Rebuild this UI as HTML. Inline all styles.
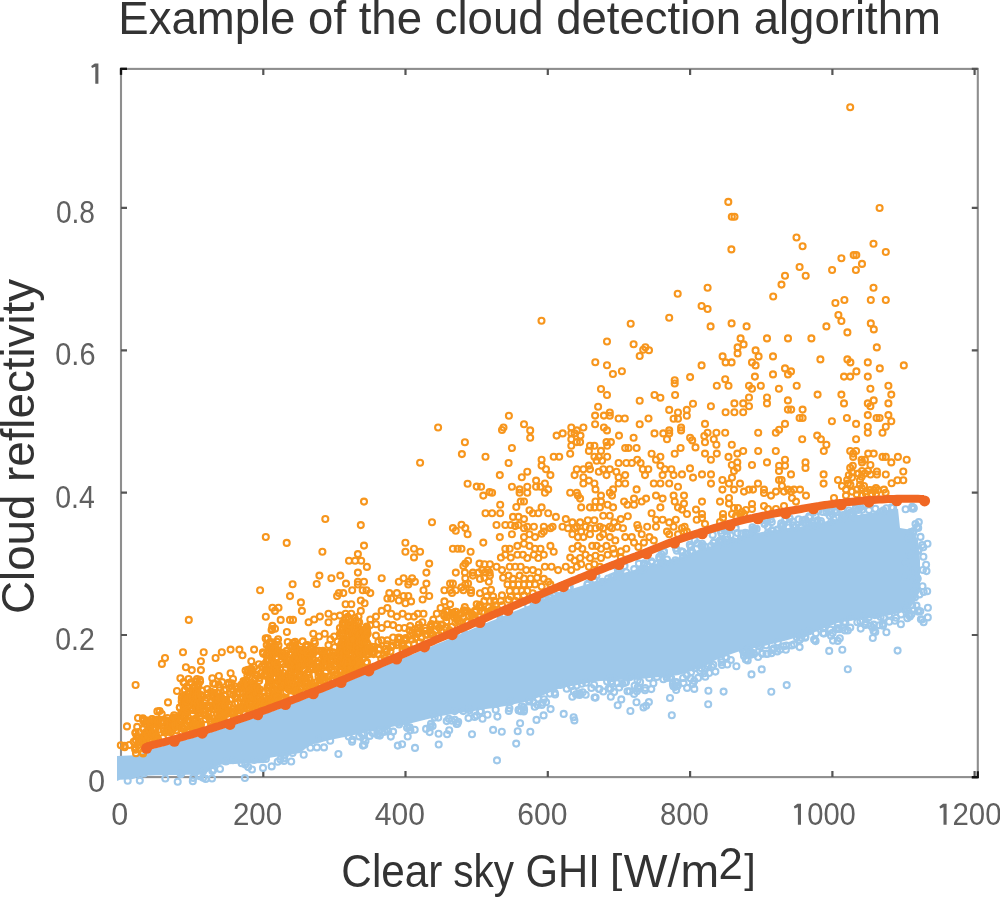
<!DOCTYPE html>
<html><head><meta charset="utf-8"><style>
html,body{margin:0;padding:0;background:#fff;width:1000px;height:897px;overflow:hidden}
svg{display:block;will-change:transform}
</style></head><body>
<svg width="1000" height="897" viewBox="0 0 1000 897"><rect x="121" y="68.9" width="856.8" height="708.2" fill="none" stroke="#8e8e8e" stroke-width="2.1"/><path d="M121 68.9V75M121 777.1V771M263.3 68.9V75M263.3 777.1V771M405.5 68.9V75M405.5 777.1V771M547.8 68.9V75M547.8 777.1V771M690.1 68.9V75M690.1 777.1V771M832.4 68.9V75M832.4 777.1V771M974.6 68.9V75M974.6 777.1V771M121 777.4H127M977.8 777.4H971.8M121 635H127M977.8 635H971.8M121 492.6H127M977.8 492.6H971.8M121 350.3H127M977.8 350.3H971.8M121 207.8H127M977.8 207.8H971.8M121 68.9H127M977.8 68.9H971.8" stroke="#555" stroke-width="2.2" fill="none"/><path d="M121 74.8V68.9H127M971.8 777.1H977.8V771.2" stroke="#111" stroke-width="2.2" fill="none"/><path d="M117 756 L140 755 L147 749.3 L150 749.4 L154 748.4 L158 747.4 L162 746.4 L166 745.3 L170 744.3 L174 743.2 L178 742.1 L182 741 L186 739.8 L190 738.7 L194 737.5 L198 736.3 L202 735.1 L206 733.9 L210 732.6 L214 731.4 L218 730.1 L222 728.8 L226 727.5 L230 726.2 L234 724.8 L238 723.5 L242 722.1 L246 720.7 L250 719.3 L254 717.9 L258 716.5 L262 715.1 L266 713.6 L270 712.1 L274 710.7 L278 709.2 L282 707.7 L286 706.2 L290 704.6 L294 703.1 L298 701.6 L302 700 L306 698.4 L310 696.9 L314 695.3 L318 693.7 L322 692.1 L326 690.5 L330 688.8 L334 687.2 L338 685.6 L342 683.9 L346 682.3 L350 680.6 L354 678.9 L358 677.3 L362 675.6 L366 673.9 L370 672.2 L374 670.5 L378 668.8 L382 667.1 L386 665.5 L390 663.8 L394 662.1 L398 660.5 L402 658.8 L406 657.1 L410 655.4 L414 653.7 L418 652.1 L422 650.4 L426 648.7 L430 647 L434 645.3 L438 643.6 L442 641.9 L446 640.2 L450 638.5 L454 636.8 L458 635.1 L462 633.4 L466 631.7 L470 630 L474 628.3 L478 626.6 L482 624.9 L486 623.3 L490 621.6 L494 619.9 L498 618.3 L502 616.6 L506 614.9 L510 613.3 L514 611.6 L518 610 L522 608.3 L526 606.7 L530 605 L534 603.4 L538 601.8 L542 600.2 L546 598.6 L550 596.9 L554 595.3 L558 593.7 L562 592.3 L566 591 L570 589.7 L574 588.3 L578 587 L582 585.8 L586 584.5 L590 583.2 L594 582 L598 580.7 L602 579.5 L606 578.2 L610 577 L614 575.8 L618 574.6 L622 573.4 L626 572.3 L630 571.2 L634 570.1 L638 569 L642 567.8 L646 566.6 L650 565.4 L654 564.2 L658 563 L662 561.8 L666 560.6 L670 559.5 L674 558.4 L678 557.4 L682 556.2 L686 554.8 L690 553.3 L694 551.9 L698 550.5 L702 549.2 L706 547.8 L710 546.5 L714 545.2 L718 543.9 L722 542.6 L726 541.3 L730 540.1 L734 538.9 L738 537.7 L742 536.6 L746 535.6 L750 534.6 L754 533.6 L758 532.7 L762 531.9 L766 531.2 L770 530.6 L774 530 L778 529.4 L782 528.9 L786 528.3 L790 527.8 L794 527.3 L798 526.9 L802 526.3 L806 525.8 L810 525.1 L814 524.1 L818 523.1 L822 522.2 L826 521.3 L830 520.4 L834 519.6 L838 518.8 L842 518 L846 517.2 L850 516.5 L854 515.7 L858 515 L862 514.3 L866 513.6 L870 512.9 L874 512.2 L878 511.6 L882 511 L886 510.4 L890 509.8 L894 509.3 L898 508.8 L900 528 L912 530 L918 540 L920 560 L920 590 L916 600 L906 613.6 L906 609 L900 613 L894 614.2 L888 615.4 L882 616.6 L876 617.5 L870 618.2 L864 619 L858 619.8 L852 620.5 L846 621.2 L840 622 L834 624.4 L828 626.8 L822 629.2 L816 631.6 L810 634 L804 635.6 L798 637.2 L792 638.8 L786 640.4 L780 642 L774 643.5 L768 645 L762 646.5 L756 647.8 L750 649 L744 650.2 L738 651.7 L732 653.8 L726 655.9 L720 658 L714 661 L708 664 L702 667 L696 669.4 L690 671.5 L684 673.6 L678 675.2 L672 675.8 L666 676.4 L660 677 L654 677.6 L648 678.2 L642 678.8 L636 679.2 L630 679.5 L624 679.8 L618 680.1 L612 680.4 L606 680.7 L600 681 L594 682 L588 683.1 L582 684.1 L576 685.2 L570 686.2 L564 687.3 L558 688.9 L552 691.5 L546 694.1 L540 696.7 L534 699.3 L528 701.4 L522 702.6 L516 703.8 L510 705 L504 706.2 L498 707.3 L492 708.2 L486 709.1 L480 710 L474 710.9 L468 711.8 L462 712.7 L456 713.6 L450 714.5 L444 715.4 L438 716.5 L432 718 L426 719.5 L420 721 L414 722.5 L408 723.9 L402 725 L396 726.1 L390 727.2 L384 728.3 L378 729.5 L372 730.9 L366 732.3 L360 733.7 L354 735.1 L348 736.4 L342 737.6 L336 738.8 L330 740 L324 741.5 L318 743 L312 744.5 L306 748.2 L300 753 L294 753.9 L288 754.9 L282 755.8 L276 756.8 L270 757.7 L264 763 L258 763.2 L252 763.4 L246 763.6 L240 763.8 L234 764 L228 764.2 L222 764.4 L216 766 L210 770.3 L204 774.5 L198 774.6 L192 774.7 L186 774.8 L180 774.9 L174 775 L168 775.1 L162 775.2 L156 775.3 L150 775.4 L144 775.4 L138 777.2 L132 779.2 L126 779.5 L120 779.8 L117 781Z" fill="#9EC8EA"/><g fill="none" stroke="#9EC8EA" stroke-width="2.1"><circle cx="127.7" cy="780.8" r="3.0"/><circle cx="139.8" cy="780.6" r="3.0"/><circle cx="143.9" cy="773.4" r="3.0"/><circle cx="165.3" cy="778.5" r="3.0"/><circle cx="177.7" cy="781.7" r="3.0"/><circle cx="181.5" cy="773.1" r="3.0"/><circle cx="180.7" cy="774.2" r="3.0"/><circle cx="193.2" cy="777.9" r="3.0"/><circle cx="192.8" cy="781.2" r="3.0"/><circle cx="199.3" cy="774.6" r="3.0"/><circle cx="199.8" cy="776.2" r="3.0"/><circle cx="203.1" cy="777.7" r="3.0"/><circle cx="203.3" cy="771" r="3.0"/><circle cx="205.7" cy="778.9" r="3.0"/><circle cx="212" cy="778.5" r="3.0"/><circle cx="212.4" cy="770.9" r="3.0"/><circle cx="213.6" cy="769.5" r="3.0"/><circle cx="214.4" cy="763.3" r="3.0"/><circle cx="220" cy="769" r="3.0"/><circle cx="225.9" cy="761.5" r="3.0"/><circle cx="233.1" cy="760.3" r="3.0"/><circle cx="241.6" cy="763.3" r="3.0"/><circle cx="244.9" cy="778" r="3.0"/><circle cx="245.3" cy="764.4" r="3.0"/><circle cx="248.2" cy="767.1" r="3.0"/><circle cx="252" cy="769.5" r="3.0"/><circle cx="254.1" cy="760" r="3.0"/><circle cx="263" cy="767.9" r="3.0"/><circle cx="265.9" cy="759" r="3.0"/><circle cx="271.7" cy="766.4" r="3.0"/><circle cx="277.7" cy="761.7" r="3.0"/><circle cx="280.4" cy="759.4" r="3.0"/><circle cx="284.1" cy="758.2" r="3.0"/><circle cx="284" cy="760.9" r="3.0"/><circle cx="285" cy="754.6" r="3.0"/><circle cx="291.2" cy="761.5" r="3.0"/><circle cx="292.6" cy="752.9" r="3.0"/><circle cx="303.7" cy="754.7" r="3.0"/><circle cx="310.4" cy="747.7" r="3.0"/><circle cx="316.9" cy="747.4" r="3.0"/><circle cx="319.6" cy="738.5" r="3.0"/><circle cx="324" cy="747.4" r="3.0"/><circle cx="330.2" cy="740.8" r="3.0"/><circle cx="338.4" cy="754" r="3.0"/><circle cx="348.7" cy="736.5" r="3.0"/><circle cx="352.4" cy="739.7" r="3.0"/><circle cx="352.1" cy="741.7" r="3.0"/><circle cx="359.2" cy="736.4" r="3.0"/><circle cx="361.9" cy="734" r="3.0"/><circle cx="362.9" cy="745.6" r="3.0"/><circle cx="363.5" cy="739.1" r="3.0"/><circle cx="363.8" cy="733.9" r="3.0"/><circle cx="364.3" cy="745.1" r="3.0"/><circle cx="365.5" cy="740.9" r="3.0"/><circle cx="369.7" cy="735.9" r="3.0"/><circle cx="372.6" cy="733.1" r="3.0"/><circle cx="377.2" cy="733.8" r="3.0"/><circle cx="377.8" cy="735.2" r="3.0"/><circle cx="379.1" cy="731.4" r="3.0"/><circle cx="379.9" cy="735.6" r="3.0"/><circle cx="380" cy="730.5" r="3.0"/><circle cx="382.2" cy="732.3" r="3.0"/><circle cx="384.9" cy="731.7" r="3.0"/><circle cx="386.9" cy="729.6" r="3.0"/><circle cx="388.2" cy="731.1" r="3.0"/><circle cx="390.8" cy="736.6" r="3.0"/><circle cx="393.1" cy="731.6" r="3.0"/><circle cx="398.2" cy="722.5" r="3.0"/><circle cx="397.8" cy="745.6" r="3.0"/><circle cx="399.1" cy="724.4" r="3.0"/><circle cx="402.1" cy="744.2" r="3.0"/><circle cx="406.1" cy="721.7" r="3.0"/><circle cx="407.1" cy="727.7" r="3.0"/><circle cx="407.7" cy="736.5" r="3.0"/><circle cx="407.6" cy="727.7" r="3.0"/><circle cx="409.7" cy="727.4" r="3.0"/><circle cx="410.4" cy="730.2" r="3.0"/><circle cx="414.7" cy="729.8" r="3.0"/><circle cx="415" cy="747.9" r="3.0"/><circle cx="426.1" cy="728.9" r="3.0"/><circle cx="429.6" cy="732.1" r="3.0"/><circle cx="430.1" cy="727.2" r="3.0"/><circle cx="431" cy="723.9" r="3.0"/><circle cx="432.6" cy="726" r="3.0"/><circle cx="433" cy="714.5" r="3.0"/><circle cx="434.7" cy="717.6" r="3.0"/><circle cx="438.3" cy="717.6" r="3.0"/><circle cx="438.6" cy="733.7" r="3.0"/><circle cx="438.7" cy="744.5" r="3.0"/><circle cx="446.7" cy="721.1" r="3.0"/><circle cx="447.1" cy="734.2" r="3.0"/><circle cx="448.8" cy="718.7" r="3.0"/><circle cx="449.2" cy="730.3" r="3.0"/><circle cx="451.5" cy="720.6" r="3.0"/><circle cx="454.6" cy="711.1" r="3.0"/><circle cx="454.8" cy="719.8" r="3.0"/><circle cx="456.6" cy="723.9" r="3.0"/><circle cx="457.4" cy="723.7" r="3.0"/><circle cx="458.2" cy="721.8" r="3.0"/><circle cx="461.2" cy="634.2" r="3.0"/><circle cx="463.3" cy="711.1" r="3.0"/><circle cx="465.3" cy="634" r="3.0"/><circle cx="468.5" cy="718.1" r="3.0"/><circle cx="468.9" cy="708.3" r="3.0"/><circle cx="469.6" cy="710.2" r="3.0"/><circle cx="472" cy="734.3" r="3.0"/><circle cx="474.6" cy="716.9" r="3.0"/><circle cx="476.6" cy="715.5" r="3.0"/><circle cx="480.1" cy="711.4" r="3.0"/><circle cx="480.9" cy="711.2" r="3.0"/><circle cx="482.5" cy="718.7" r="3.0"/><circle cx="483.7" cy="626.3" r="3.0"/><circle cx="487.5" cy="714.8" r="3.0"/><circle cx="493.1" cy="729.9" r="3.0"/><circle cx="495.7" cy="709.7" r="3.0"/><circle cx="497.4" cy="716.6" r="3.0"/><circle cx="497" cy="760.4" r="3.0"/><circle cx="500.6" cy="619.4" r="3.0"/><circle cx="501.8" cy="731.8" r="3.0"/><circle cx="504.7" cy="615.3" r="3.0"/><circle cx="508.8" cy="710.9" r="3.0"/><circle cx="509.4" cy="708.3" r="3.0"/><circle cx="510.8" cy="701.3" r="3.0"/><circle cx="516.2" cy="743.6" r="3.0"/><circle cx="517.7" cy="731.2" r="3.0"/><circle cx="518.8" cy="710.5" r="3.0"/><circle cx="518.6" cy="709.9" r="3.0"/><circle cx="520.1" cy="723.3" r="3.0"/><circle cx="520.9" cy="711.2" r="3.0"/><circle cx="521.7" cy="706.3" r="3.0"/><circle cx="523.8" cy="711.5" r="3.0"/><circle cx="523.7" cy="707.4" r="3.0"/><circle cx="524.1" cy="709.9" r="3.0"/><circle cx="528.1" cy="605.3" r="3.0"/><circle cx="529.1" cy="701.4" r="3.0"/><circle cx="530.3" cy="731.7" r="3.0"/><circle cx="529.6" cy="700.2" r="3.0"/><circle cx="533.3" cy="702.4" r="3.0"/><circle cx="534.7" cy="706.8" r="3.0"/><circle cx="534.5" cy="605.5" r="3.0"/><circle cx="536.5" cy="719.9" r="3.0"/><circle cx="537.6" cy="705.1" r="3.0"/><circle cx="537.9" cy="698.5" r="3.0"/><circle cx="538.7" cy="601.3" r="3.0"/><circle cx="541.8" cy="704.9" r="3.0"/><circle cx="542.4" cy="598.3" r="3.0"/><circle cx="542.6" cy="702.8" r="3.0"/><circle cx="544" cy="699.3" r="3.0"/><circle cx="543.6" cy="715.4" r="3.0"/><circle cx="543.6" cy="599.3" r="3.0"/><circle cx="545.4" cy="599.2" r="3.0"/><circle cx="546.1" cy="702.3" r="3.0"/><circle cx="545.5" cy="598.7" r="3.0"/><circle cx="549.9" cy="693.6" r="3.0"/><circle cx="550.6" cy="709.1" r="3.0"/><circle cx="551.3" cy="597.9" r="3.0"/><circle cx="554.3" cy="595.2" r="3.0"/><circle cx="554.7" cy="692.7" r="3.0"/><circle cx="555.1" cy="694.5" r="3.0"/><circle cx="558" cy="592.1" r="3.0"/><circle cx="558.5" cy="596" r="3.0"/><circle cx="560.4" cy="685" r="3.0"/><circle cx="564.4" cy="683.4" r="3.0"/><circle cx="563.7" cy="713.9" r="3.0"/><circle cx="566.7" cy="688.8" r="3.0"/><circle cx="568.3" cy="588.2" r="3.0"/><circle cx="569.8" cy="587.4" r="3.0"/><circle cx="570.8" cy="685.6" r="3.0"/><circle cx="571.5" cy="686.3" r="3.0"/><circle cx="572.3" cy="696.8" r="3.0"/><circle cx="573.8" cy="691.1" r="3.0"/><circle cx="574.4" cy="720.4" r="3.0"/><circle cx="573.6" cy="717.2" r="3.0"/><circle cx="576" cy="694.4" r="3.0"/><circle cx="576.7" cy="685.5" r="3.0"/><circle cx="579.7" cy="693.4" r="3.0"/><circle cx="579.6" cy="695" r="3.0"/><circle cx="581.8" cy="683.7" r="3.0"/><circle cx="582.7" cy="692.2" r="3.0"/><circle cx="585.7" cy="694.8" r="3.0"/><circle cx="586" cy="682.8" r="3.0"/><circle cx="587.3" cy="584.7" r="3.0"/><circle cx="588" cy="583.8" r="3.0"/><circle cx="591.4" cy="688" r="3.0"/><circle cx="594.1" cy="684.8" r="3.0"/><circle cx="594.4" cy="579.5" r="3.0"/><circle cx="594.6" cy="697.5" r="3.0"/><circle cx="595.6" cy="697.6" r="3.0"/><circle cx="596.4" cy="576.1" r="3.0"/><circle cx="599" cy="689" r="3.0"/><circle cx="599.4" cy="689.1" r="3.0"/><circle cx="602.3" cy="581.8" r="3.0"/><circle cx="603.3" cy="691.5" r="3.0"/><circle cx="607.1" cy="681.5" r="3.0"/><circle cx="608.1" cy="578.5" r="3.0"/><circle cx="608.7" cy="688.6" r="3.0"/><circle cx="609.9" cy="678.3" r="3.0"/><circle cx="610.5" cy="688.8" r="3.0"/><circle cx="610.8" cy="696.8" r="3.0"/><circle cx="611" cy="681.4" r="3.0"/><circle cx="611.5" cy="577.3" r="3.0"/><circle cx="612" cy="683.7" r="3.0"/><circle cx="613.4" cy="678" r="3.0"/><circle cx="614.1" cy="692.1" r="3.0"/><circle cx="614" cy="576.4" r="3.0"/><circle cx="617" cy="683.2" r="3.0"/><circle cx="616.5" cy="575.2" r="3.0"/><circle cx="617.7" cy="705.3" r="3.0"/><circle cx="618.2" cy="571.8" r="3.0"/><circle cx="617.8" cy="575.8" r="3.0"/><circle cx="617.7" cy="568.7" r="3.0"/><circle cx="619.2" cy="687.5" r="3.0"/><circle cx="618.8" cy="571.4" r="3.0"/><circle cx="618.8" cy="570.8" r="3.0"/><circle cx="618.7" cy="574" r="3.0"/><circle cx="619.9" cy="576.3" r="3.0"/><circle cx="621.3" cy="699.4" r="3.0"/><circle cx="622.3" cy="683.8" r="3.0"/><circle cx="624.5" cy="566.1" r="3.0"/><circle cx="624.9" cy="682.7" r="3.0"/><circle cx="626" cy="682.3" r="3.0"/><circle cx="626.2" cy="572.2" r="3.0"/><circle cx="627.5" cy="691.2" r="3.0"/><circle cx="630.4" cy="711" r="3.0"/><circle cx="630.2" cy="677.1" r="3.0"/><circle cx="629.6" cy="691.2" r="3.0"/><circle cx="634.1" cy="693.9" r="3.0"/><circle cx="634.2" cy="569.1" r="3.0"/><circle cx="634.6" cy="685.8" r="3.0"/><circle cx="637.5" cy="680.5" r="3.0"/><circle cx="636.5" cy="702.2" r="3.0"/><circle cx="636.9" cy="691.2" r="3.0"/><circle cx="637.7" cy="687.2" r="3.0"/><circle cx="638.6" cy="676.2" r="3.0"/><circle cx="639.3" cy="688.8" r="3.0"/><circle cx="638.9" cy="563.6" r="3.0"/><circle cx="640.1" cy="682" r="3.0"/><circle cx="639.6" cy="570.8" r="3.0"/><circle cx="639.7" cy="570" r="3.0"/><circle cx="643.5" cy="707.4" r="3.0"/><circle cx="643.3" cy="569.6" r="3.0"/><circle cx="644" cy="563.3" r="3.0"/><circle cx="644.2" cy="564.9" r="3.0"/><circle cx="645.2" cy="688" r="3.0"/><circle cx="645" cy="690.2" r="3.0"/><circle cx="646.2" cy="705.7" r="3.0"/><circle cx="647.2" cy="564.9" r="3.0"/><circle cx="647.2" cy="565.7" r="3.0"/><circle cx="649.2" cy="677.9" r="3.0"/><circle cx="648.9" cy="702.1" r="3.0"/><circle cx="651.3" cy="689.1" r="3.0"/><circle cx="651.3" cy="561.3" r="3.0"/><circle cx="651.8" cy="562.6" r="3.0"/><circle cx="653.4" cy="683.2" r="3.0"/><circle cx="656.9" cy="676.9" r="3.0"/><circle cx="657.1" cy="563.8" r="3.0"/><circle cx="659.4" cy="559.2" r="3.0"/><circle cx="659.2" cy="557.1" r="3.0"/><circle cx="661.4" cy="554.3" r="3.0"/><circle cx="660.8" cy="564.3" r="3.0"/><circle cx="662.4" cy="561.4" r="3.0"/><circle cx="663.4" cy="679.2" r="3.0"/><circle cx="664" cy="551.9" r="3.0"/><circle cx="663.7" cy="551.6" r="3.0"/><circle cx="665.1" cy="563.4" r="3.0"/><circle cx="666.8" cy="678" r="3.0"/><circle cx="666.7" cy="677.3" r="3.0"/><circle cx="667" cy="559.5" r="3.0"/><circle cx="669.5" cy="673.5" r="3.0"/><circle cx="670" cy="698" r="3.0"/><circle cx="669.8" cy="677.4" r="3.0"/><circle cx="671.2" cy="678" r="3.0"/><circle cx="671.8" cy="715.2" r="3.0"/><circle cx="673.4" cy="686.3" r="3.0"/><circle cx="672.9" cy="684.1" r="3.0"/><circle cx="674.8" cy="686.9" r="3.0"/><circle cx="675.4" cy="560.3" r="3.0"/><circle cx="676.1" cy="682.8" r="3.0"/><circle cx="676.3" cy="682" r="3.0"/><circle cx="676.2" cy="690" r="3.0"/><circle cx="676" cy="548.4" r="3.0"/><circle cx="677.1" cy="685.9" r="3.0"/><circle cx="676.8" cy="550.7" r="3.0"/><circle cx="677.8" cy="685.5" r="3.0"/><circle cx="681.2" cy="551.3" r="3.0"/><circle cx="682.4" cy="552" r="3.0"/><circle cx="682.5" cy="551.9" r="3.0"/><circle cx="683.1" cy="678" r="3.0"/><circle cx="683.5" cy="683.1" r="3.0"/><circle cx="682.9" cy="556.4" r="3.0"/><circle cx="683.6" cy="556.4" r="3.0"/><circle cx="687.1" cy="687.9" r="3.0"/><circle cx="686.9" cy="675.3" r="3.0"/><circle cx="687.5" cy="554" r="3.0"/><circle cx="689.8" cy="544.8" r="3.0"/><circle cx="691" cy="672.2" r="3.0"/><circle cx="690.5" cy="678.3" r="3.0"/><circle cx="690.5" cy="551.5" r="3.0"/><circle cx="690.7" cy="546.9" r="3.0"/><circle cx="691.9" cy="551.4" r="3.0"/><circle cx="693" cy="683.9" r="3.0"/><circle cx="694.3" cy="688.9" r="3.0"/><circle cx="694.2" cy="680.9" r="3.0"/><circle cx="694.7" cy="668.3" r="3.0"/><circle cx="694.7" cy="540.2" r="3.0"/><circle cx="697.4" cy="543.4" r="3.0"/><circle cx="696.7" cy="548.5" r="3.0"/><circle cx="698.1" cy="677.9" r="3.0"/><circle cx="698.8" cy="664.4" r="3.0"/><circle cx="700.1" cy="670.8" r="3.0"/><circle cx="701.5" cy="668.2" r="3.0"/><circle cx="701.4" cy="545.9" r="3.0"/><circle cx="702.5" cy="546.4" r="3.0"/><circle cx="702.2" cy="543.7" r="3.0"/><circle cx="704.3" cy="673.3" r="3.0"/><circle cx="705.1" cy="669" r="3.0"/><circle cx="705.3" cy="676.7" r="3.0"/><circle cx="704.8" cy="546.5" r="3.0"/><circle cx="708.4" cy="690.7" r="3.0"/><circle cx="708.2" cy="704.2" r="3.0"/><circle cx="708.3" cy="666.5" r="3.0"/><circle cx="709.1" cy="673" r="3.0"/><circle cx="711.3" cy="545.7" r="3.0"/><circle cx="711.8" cy="666.8" r="3.0"/><circle cx="713.4" cy="664.8" r="3.0"/><circle cx="712.7" cy="534.9" r="3.0"/><circle cx="713.5" cy="542.8" r="3.0"/><circle cx="714.3" cy="542.4" r="3.0"/><circle cx="715.4" cy="671.6" r="3.0"/><circle cx="717.9" cy="544.8" r="3.0"/><circle cx="719.6" cy="540.7" r="3.0"/><circle cx="721.3" cy="660.1" r="3.0"/><circle cx="720.9" cy="539.8" r="3.0"/><circle cx="721.4" cy="533.3" r="3.0"/><circle cx="720.7" cy="530.7" r="3.0"/><circle cx="722" cy="664.9" r="3.0"/><circle cx="721.8" cy="662.2" r="3.0"/><circle cx="722.2" cy="541.8" r="3.0"/><circle cx="721.8" cy="540.8" r="3.0"/><circle cx="723.6" cy="691.6" r="3.0"/><circle cx="724.3" cy="542.1" r="3.0"/><circle cx="724.9" cy="530.5" r="3.0"/><circle cx="725.7" cy="657.1" r="3.0"/><circle cx="726.3" cy="658.1" r="3.0"/><circle cx="727.3" cy="664.5" r="3.0"/><circle cx="727.2" cy="529.7" r="3.0"/><circle cx="726.9" cy="539.7" r="3.0"/><circle cx="727.1" cy="536.4" r="3.0"/><circle cx="728" cy="543.1" r="3.0"/><circle cx="729.1" cy="530" r="3.0"/><circle cx="730.8" cy="660" r="3.0"/><circle cx="730.6" cy="535.3" r="3.0"/><circle cx="733.4" cy="541.3" r="3.0"/><circle cx="733.2" cy="541.7" r="3.0"/><circle cx="736.4" cy="666.3" r="3.0"/><circle cx="735.7" cy="528.1" r="3.0"/><circle cx="737.5" cy="533.1" r="3.0"/><circle cx="741.4" cy="533.6" r="3.0"/><circle cx="740.7" cy="539.2" r="3.0"/><circle cx="742.7" cy="650.1" r="3.0"/><circle cx="743.6" cy="652.6" r="3.0"/><circle cx="744" cy="656" r="3.0"/><circle cx="744.8" cy="652.9" r="3.0"/><circle cx="745.3" cy="532.7" r="3.0"/><circle cx="745.8" cy="652.1" r="3.0"/><circle cx="745.8" cy="659.4" r="3.0"/><circle cx="747.2" cy="533.5" r="3.0"/><circle cx="747.7" cy="660.4" r="3.0"/><circle cx="748.5" cy="648.6" r="3.0"/><circle cx="749.4" cy="650.1" r="3.0"/><circle cx="748.9" cy="654.8" r="3.0"/><circle cx="749" cy="533.6" r="3.0"/><circle cx="750.7" cy="652.2" r="3.0"/><circle cx="750.6" cy="654.8" r="3.0"/><circle cx="751.6" cy="653.8" r="3.0"/><circle cx="751.5" cy="674.4" r="3.0"/><circle cx="752.5" cy="527.3" r="3.0"/><circle cx="753.5" cy="649" r="3.0"/><circle cx="753.1" cy="529.4" r="3.0"/><circle cx="752.8" cy="531.1" r="3.0"/><circle cx="753.5" cy="653.1" r="3.0"/><circle cx="754.1" cy="654.1" r="3.0"/><circle cx="754.7" cy="529.1" r="3.0"/><circle cx="756.6" cy="528.9" r="3.0"/><circle cx="758.1" cy="657" r="3.0"/><circle cx="758.8" cy="645.4" r="3.0"/><circle cx="760.2" cy="646.8" r="3.0"/><circle cx="762.2" cy="653.8" r="3.0"/><circle cx="761.7" cy="669.4" r="3.0"/><circle cx="762.3" cy="653.4" r="3.0"/><circle cx="764.7" cy="520.5" r="3.0"/><circle cx="764.6" cy="523.7" r="3.0"/><circle cx="764.8" cy="524" r="3.0"/><circle cx="766.1" cy="645.2" r="3.0"/><circle cx="766.4" cy="653.9" r="3.0"/><circle cx="767.4" cy="520.6" r="3.0"/><circle cx="767.7" cy="653.8" r="3.0"/><circle cx="768.1" cy="532.6" r="3.0"/><circle cx="767.7" cy="526.7" r="3.0"/><circle cx="771.3" cy="691.7" r="3.0"/><circle cx="771.4" cy="653.2" r="3.0"/><circle cx="770.6" cy="519.6" r="3.0"/><circle cx="772.2" cy="649.9" r="3.0"/><circle cx="772" cy="530.3" r="3.0"/><circle cx="771.8" cy="522.1" r="3.0"/><circle cx="772.2" cy="530.7" r="3.0"/><circle cx="773.4" cy="649.7" r="3.0"/><circle cx="772.9" cy="530.9" r="3.0"/><circle cx="773.9" cy="648.3" r="3.0"/><circle cx="777.3" cy="651.4" r="3.0"/><circle cx="777.4" cy="529.5" r="3.0"/><circle cx="777.8" cy="642.3" r="3.0"/><circle cx="778" cy="529.8" r="3.0"/><circle cx="780.2" cy="649.6" r="3.0"/><circle cx="781.1" cy="526.5" r="3.0"/><circle cx="781.2" cy="523.4" r="3.0"/><circle cx="783" cy="524.9" r="3.0"/><circle cx="783.6" cy="646.2" r="3.0"/><circle cx="785.3" cy="520.6" r="3.0"/><circle cx="786.4" cy="645.6" r="3.0"/><circle cx="785.9" cy="649.8" r="3.0"/><circle cx="785.6" cy="519.1" r="3.0"/><circle cx="786.7" cy="685.1" r="3.0"/><circle cx="788.7" cy="527.5" r="3.0"/><circle cx="789.7" cy="518.4" r="3.0"/><circle cx="791.6" cy="645.4" r="3.0"/><circle cx="793.1" cy="525.4" r="3.0"/><circle cx="792.7" cy="521.5" r="3.0"/><circle cx="794.1" cy="644.4" r="3.0"/><circle cx="795.8" cy="527.3" r="3.0"/><circle cx="796.9" cy="637.6" r="3.0"/><circle cx="798.6" cy="634.5" r="3.0"/><circle cx="798.6" cy="519.3" r="3.0"/><circle cx="799.6" cy="647.1" r="3.0"/><circle cx="799.6" cy="640" r="3.0"/><circle cx="801.4" cy="638" r="3.0"/><circle cx="801.2" cy="527.7" r="3.0"/><circle cx="801.2" cy="526.2" r="3.0"/><circle cx="802.6" cy="520.2" r="3.0"/><circle cx="805.2" cy="637.8" r="3.0"/><circle cx="804.6" cy="633.1" r="3.0"/><circle cx="805.4" cy="636.7" r="3.0"/><circle cx="805.5" cy="519.5" r="3.0"/><circle cx="805.7" cy="522.9" r="3.0"/><circle cx="809.1" cy="631.3" r="3.0"/><circle cx="809.2" cy="516.4" r="3.0"/><circle cx="809.4" cy="517.4" r="3.0"/><circle cx="808.9" cy="523.2" r="3.0"/><circle cx="810.9" cy="525.3" r="3.0"/><circle cx="812.2" cy="526.2" r="3.0"/><circle cx="812.3" cy="523" r="3.0"/><circle cx="813" cy="512.8" r="3.0"/><circle cx="814.1" cy="639.6" r="3.0"/><circle cx="815.1" cy="640.3" r="3.0"/><circle cx="815.9" cy="633.3" r="3.0"/><circle cx="815.6" cy="641.1" r="3.0"/><circle cx="815.6" cy="515.9" r="3.0"/><circle cx="815.9" cy="525.4" r="3.0"/><circle cx="817.2" cy="522.5" r="3.0"/><circle cx="817.7" cy="520.3" r="3.0"/><circle cx="818.7" cy="510.6" r="3.0"/><circle cx="820.9" cy="521" r="3.0"/><circle cx="820.7" cy="523.3" r="3.0"/><circle cx="823.3" cy="633.1" r="3.0"/><circle cx="823.1" cy="628.3" r="3.0"/><circle cx="822.7" cy="511.9" r="3.0"/><circle cx="823.6" cy="633.3" r="3.0"/><circle cx="823.9" cy="633.5" r="3.0"/><circle cx="826.5" cy="512.6" r="3.0"/><circle cx="829.2" cy="650.9" r="3.0"/><circle cx="830.4" cy="629.6" r="3.0"/><circle cx="829.9" cy="512.1" r="3.0"/><circle cx="829.8" cy="515.7" r="3.0"/><circle cx="831" cy="635.7" r="3.0"/><circle cx="830.6" cy="509.7" r="3.0"/><circle cx="831.3" cy="521.8" r="3.0"/><circle cx="832.2" cy="514.3" r="3.0"/><circle cx="833" cy="640.6" r="3.0"/><circle cx="832.6" cy="632.9" r="3.0"/><circle cx="833.8" cy="519.3" r="3.0"/><circle cx="834.6" cy="511.1" r="3.0"/><circle cx="836.3" cy="629.2" r="3.0"/><circle cx="836.6" cy="512.3" r="3.0"/><circle cx="837.7" cy="640.9" r="3.0"/><circle cx="838" cy="628.4" r="3.0"/><circle cx="837.7" cy="624.1" r="3.0"/><circle cx="837.6" cy="628.3" r="3.0"/><circle cx="839.5" cy="629.3" r="3.0"/><circle cx="839.8" cy="638.3" r="3.0"/><circle cx="842.3" cy="649.8" r="3.0"/><circle cx="842" cy="515.4" r="3.0"/><circle cx="842" cy="510.7" r="3.0"/><circle cx="841.9" cy="518.8" r="3.0"/><circle cx="843.9" cy="622.6" r="3.0"/><circle cx="843.7" cy="627.6" r="3.0"/><circle cx="843.8" cy="516.1" r="3.0"/><circle cx="843.7" cy="517.3" r="3.0"/><circle cx="845" cy="630.5" r="3.0"/><circle cx="845.4" cy="622.9" r="3.0"/><circle cx="844.7" cy="514.8" r="3.0"/><circle cx="847" cy="518" r="3.0"/><circle cx="847.8" cy="669.2" r="3.0"/><circle cx="847.8" cy="630.5" r="3.0"/><circle cx="848.9" cy="510.5" r="3.0"/><circle cx="850.3" cy="627.6" r="3.0"/><circle cx="850.1" cy="616.8" r="3.0"/><circle cx="849.9" cy="512.9" r="3.0"/><circle cx="850.4" cy="513.8" r="3.0"/><circle cx="852.2" cy="513.3" r="3.0"/><circle cx="852.8" cy="515.7" r="3.0"/><circle cx="855.1" cy="518" r="3.0"/><circle cx="855.7" cy="508.8" r="3.0"/><circle cx="856.1" cy="506" r="3.0"/><circle cx="857.3" cy="622.3" r="3.0"/><circle cx="858.2" cy="509.9" r="3.0"/><circle cx="858.8" cy="513.5" r="3.0"/><circle cx="860.4" cy="621.5" r="3.0"/><circle cx="860.4" cy="507.4" r="3.0"/><circle cx="860.7" cy="628.6" r="3.0"/><circle cx="862.2" cy="509.8" r="3.0"/><circle cx="863" cy="616.1" r="3.0"/><circle cx="862.8" cy="506" r="3.0"/><circle cx="864.4" cy="616.2" r="3.0"/><circle cx="865.3" cy="625" r="3.0"/><circle cx="865.1" cy="624.1" r="3.0"/><circle cx="865.9" cy="622" r="3.0"/><circle cx="868.7" cy="617.4" r="3.0"/><circle cx="869" cy="510.1" r="3.0"/><circle cx="870.8" cy="625.7" r="3.0"/><circle cx="872.6" cy="627.8" r="3.0"/><circle cx="872.8" cy="638" r="3.0"/><circle cx="873.6" cy="631.1" r="3.0"/><circle cx="873.7" cy="624.6" r="3.0"/><circle cx="875.3" cy="632" r="3.0"/><circle cx="874.7" cy="615.1" r="3.0"/><circle cx="875.4" cy="508.8" r="3.0"/><circle cx="877.5" cy="614.7" r="3.0"/><circle cx="879.4" cy="625.3" r="3.0"/><circle cx="880.4" cy="512" r="3.0"/><circle cx="880.6" cy="617" r="3.0"/><circle cx="882.4" cy="512.5" r="3.0"/><circle cx="882.6" cy="624.1" r="3.0"/><circle cx="883" cy="625.8" r="3.0"/><circle cx="883.8" cy="617.5" r="3.0"/><circle cx="883.5" cy="510.4" r="3.0"/><circle cx="886.4" cy="632.2" r="3.0"/><circle cx="886.5" cy="508.2" r="3.0"/><circle cx="889.2" cy="614.7" r="3.0"/><circle cx="889.2" cy="621.8" r="3.0"/><circle cx="891.6" cy="507.2" r="3.0"/><circle cx="893" cy="507.7" r="3.0"/><circle cx="894.9" cy="620.8" r="3.0"/><circle cx="896.1" cy="617.8" r="3.0"/><circle cx="897.6" cy="650.6" r="3.0"/><circle cx="900.9" cy="624.3" r="3.0"/><circle cx="901" cy="614.4" r="3.0"/><circle cx="905.3" cy="605.9" r="3.0"/><circle cx="907.1" cy="609.7" r="3.0"/><circle cx="907.3" cy="618.2" r="3.0"/><circle cx="908.8" cy="614.7" r="3.0"/><circle cx="911.5" cy="614.3" r="3.0"/><circle cx="912.2" cy="508.4" r="3.0"/><circle cx="912.2" cy="506.9" r="3.0"/><circle cx="913.9" cy="610.2" r="3.0"/><circle cx="918.2" cy="610.6" r="3.0"/><circle cx="920.9" cy="619.3" r="3.0"/><circle cx="923.6" cy="622.3" r="3.0"/><circle cx="923.3" cy="547.2" r="3.0"/><circle cx="917.5" cy="578.4" r="3.0"/><circle cx="926.5" cy="571.1" r="3.0"/><circle cx="917.5" cy="578.8" r="3.0"/><circle cx="927.8" cy="617.4" r="3.0"/><circle cx="918.2" cy="527.9" r="3.0"/><circle cx="922" cy="619.6" r="3.0"/><circle cx="918.8" cy="522.1" r="3.0"/><circle cx="923.7" cy="592" r="3.0"/><circle cx="905.6" cy="509.2" r="3.0"/><circle cx="913.6" cy="531" r="3.0"/><circle cx="922.2" cy="545.1" r="3.0"/><circle cx="918.1" cy="550.9" r="3.0"/><circle cx="919.5" cy="594.4" r="3.0"/><circle cx="916.5" cy="605.6" r="3.0"/><circle cx="926.1" cy="564.7" r="3.0"/><circle cx="910.7" cy="532" r="3.0"/><circle cx="913.1" cy="533.2" r="3.0"/><circle cx="927.5" cy="543.7" r="3.0"/><circle cx="913.6" cy="507.9" r="3.0"/><circle cx="920.5" cy="536.9" r="3.0"/><circle cx="905.9" cy="576.9" r="3.0"/><circle cx="909.9" cy="616.5" r="3.0"/><circle cx="918.8" cy="549.5" r="3.0"/><circle cx="914.1" cy="546.4" r="3.0"/><circle cx="918" cy="611.6" r="3.0"/><circle cx="915" cy="597.2" r="3.0"/><circle cx="915.1" cy="591.2" r="3.0"/><circle cx="922.5" cy="586.2" r="3.0"/><circle cx="913.9" cy="592.4" r="3.0"/><circle cx="913.2" cy="570.9" r="3.0"/><circle cx="927.9" cy="607.7" r="3.0"/><circle cx="908.6" cy="538.1" r="3.0"/><circle cx="917.2" cy="526.8" r="3.0"/><circle cx="909.2" cy="554.6" r="3.0"/><circle cx="905.8" cy="562.5" r="3.0"/><circle cx="923.4" cy="556.8" r="3.0"/><circle cx="920.3" cy="611.2" r="3.0"/><circle cx="906.8" cy="608.5" r="3.0"/><circle cx="913.6" cy="508.6" r="3.0"/><circle cx="913.7" cy="579.9" r="3.0"/><circle cx="912.2" cy="604.9" r="3.0"/><circle cx="922.9" cy="570" r="3.0"/><circle cx="915.5" cy="524.1" r="3.0"/><circle cx="927.2" cy="591.2" r="3.0"/></g><g fill="none" stroke="#F7961D" stroke-width="2.1"><circle cx="120.8" cy="745.2" r="3.0"/><circle cx="124.6" cy="747.3" r="3.0"/><circle cx="124.5" cy="745.7" r="3.0"/><circle cx="129.3" cy="745" r="3.0"/><circle cx="133.7" cy="741.7" r="3.0"/><circle cx="135.4" cy="733.1" r="3.0"/><circle cx="135.3" cy="748.5" r="3.0"/><circle cx="135.4" cy="747.2" r="3.0"/><circle cx="135.3" cy="749.7" r="3.0"/><circle cx="135.9" cy="740.2" r="3.0"/><circle cx="136" cy="753.2" r="3.0"/><circle cx="135.6" cy="732.6" r="3.0"/><circle cx="136.7" cy="736.5" r="3.0"/><circle cx="137.2" cy="726.9" r="3.0"/><circle cx="137.8" cy="745.5" r="3.0"/><circle cx="138.6" cy="742" r="3.0"/><circle cx="138.8" cy="732" r="3.0"/><circle cx="140" cy="742.2" r="3.0"/><circle cx="139.9" cy="742.3" r="3.0"/><circle cx="140.1" cy="739.6" r="3.0"/><circle cx="142.8" cy="752.2" r="3.0"/><circle cx="143.1" cy="743.1" r="3.0"/><circle cx="142.8" cy="737.8" r="3.0"/><circle cx="143.4" cy="729" r="3.0"/><circle cx="142.9" cy="718.3" r="3.0"/><circle cx="143.1" cy="753.4" r="3.0"/><circle cx="143.3" cy="719.9" r="3.0"/><circle cx="143.8" cy="720" r="3.0"/><circle cx="143.5" cy="721.1" r="3.0"/><circle cx="144.2" cy="737.3" r="3.0"/><circle cx="144.9" cy="746.8" r="3.0"/><circle cx="144.8" cy="723.7" r="3.0"/><circle cx="145" cy="747.6" r="3.0"/><circle cx="145" cy="737" r="3.0"/><circle cx="144.8" cy="749.1" r="3.0"/><circle cx="144.6" cy="744.5" r="3.0"/><circle cx="145" cy="745.3" r="3.0"/><circle cx="146.3" cy="746.1" r="3.0"/><circle cx="146.3" cy="744.4" r="3.0"/><circle cx="145.8" cy="732.2" r="3.0"/><circle cx="146.4" cy="738" r="3.0"/><circle cx="147" cy="735.7" r="3.0"/><circle cx="147.3" cy="731.3" r="3.0"/><circle cx="146.8" cy="724.3" r="3.0"/><circle cx="147.3" cy="734.4" r="3.0"/><circle cx="146.8" cy="720.6" r="3.0"/><circle cx="147.7" cy="720.8" r="3.0"/><circle cx="148" cy="734.7" r="3.0"/><circle cx="148.3" cy="722.6" r="3.0"/><circle cx="147.6" cy="734.8" r="3.0"/><circle cx="147.8" cy="721.2" r="3.0"/><circle cx="149" cy="722" r="3.0"/><circle cx="148.7" cy="737.1" r="3.0"/><circle cx="149.8" cy="738.7" r="3.0"/><circle cx="149.9" cy="730.2" r="3.0"/><circle cx="150.1" cy="726.5" r="3.0"/><circle cx="149.6" cy="730.1" r="3.0"/><circle cx="150.4" cy="741.3" r="3.0"/><circle cx="150.8" cy="726" r="3.0"/><circle cx="150.6" cy="721.7" r="3.0"/><circle cx="150.9" cy="739.7" r="3.0"/><circle cx="152.2" cy="719.1" r="3.0"/><circle cx="151.8" cy="734" r="3.0"/><circle cx="151.9" cy="719.4" r="3.0"/><circle cx="153.3" cy="735" r="3.0"/><circle cx="154.3" cy="728" r="3.0"/><circle cx="154.1" cy="720.7" r="3.0"/><circle cx="154.1" cy="736.9" r="3.0"/><circle cx="155.1" cy="728.1" r="3.0"/><circle cx="155.1" cy="733.3" r="3.0"/><circle cx="155.4" cy="734.9" r="3.0"/><circle cx="155" cy="730" r="3.0"/><circle cx="156.2" cy="720.1" r="3.0"/><circle cx="156.3" cy="736.4" r="3.0"/><circle cx="157.4" cy="722.5" r="3.0"/><circle cx="157.5" cy="739.9" r="3.0"/><circle cx="157.3" cy="721.5" r="3.0"/><circle cx="157.4" cy="711.4" r="3.0"/><circle cx="157.9" cy="720.7" r="3.0"/><circle cx="158.4" cy="729.7" r="3.0"/><circle cx="157.8" cy="725.3" r="3.0"/><circle cx="157.7" cy="720.6" r="3.0"/><circle cx="158.6" cy="740.3" r="3.0"/><circle cx="158.5" cy="720.1" r="3.0"/><circle cx="160.9" cy="721.5" r="3.0"/><circle cx="162.1" cy="721.8" r="3.0"/><circle cx="161.7" cy="714.1" r="3.0"/><circle cx="163" cy="737.9" r="3.0"/><circle cx="163.2" cy="728.8" r="3.0"/><circle cx="162.7" cy="721.7" r="3.0"/><circle cx="164" cy="730.8" r="3.0"/><circle cx="165.7" cy="732.3" r="3.0"/><circle cx="166.1" cy="720.3" r="3.0"/><circle cx="166.6" cy="729.2" r="3.0"/><circle cx="166.9" cy="721" r="3.0"/><circle cx="168.3" cy="730.4" r="3.0"/><circle cx="168.4" cy="723.7" r="3.0"/><circle cx="168.1" cy="728.2" r="3.0"/><circle cx="167.5" cy="718" r="3.0"/><circle cx="168.5" cy="730.5" r="3.0"/><circle cx="169" cy="722.1" r="3.0"/><circle cx="169.5" cy="725" r="3.0"/><circle cx="169.4" cy="723.4" r="3.0"/><circle cx="169.1" cy="731.6" r="3.0"/><circle cx="171.3" cy="729.8" r="3.0"/><circle cx="171.1" cy="732.3" r="3.0"/><circle cx="170.6" cy="724.2" r="3.0"/><circle cx="172.2" cy="726.7" r="3.0"/><circle cx="171.8" cy="727.5" r="3.0"/><circle cx="172.5" cy="724.6" r="3.0"/><circle cx="172.8" cy="722.3" r="3.0"/><circle cx="172.8" cy="725.8" r="3.0"/><circle cx="173" cy="729" r="3.0"/><circle cx="172.9" cy="719.2" r="3.0"/><circle cx="173.6" cy="725.4" r="3.0"/><circle cx="173.9" cy="722" r="3.0"/><circle cx="174.1" cy="724.8" r="3.0"/><circle cx="173.6" cy="717.5" r="3.0"/><circle cx="173.8" cy="717.6" r="3.0"/><circle cx="174.1" cy="715.3" r="3.0"/><circle cx="174.8" cy="724.1" r="3.0"/><circle cx="176.3" cy="722.7" r="3.0"/><circle cx="175.7" cy="724.5" r="3.0"/><circle cx="176.1" cy="718" r="3.0"/><circle cx="176" cy="730.2" r="3.0"/><circle cx="175.7" cy="726.9" r="3.0"/><circle cx="177.3" cy="724" r="3.0"/><circle cx="179.1" cy="724.5" r="3.0"/><circle cx="179.6" cy="725.1" r="3.0"/><circle cx="179.5" cy="721.9" r="3.0"/><circle cx="179.8" cy="707.5" r="3.0"/><circle cx="179.9" cy="707.6" r="3.0"/><circle cx="180.8" cy="720.1" r="3.0"/><circle cx="181.1" cy="713.6" r="3.0"/><circle cx="181.8" cy="697.9" r="3.0"/><circle cx="181.7" cy="701.4" r="3.0"/><circle cx="182.1" cy="728.1" r="3.0"/><circle cx="182.4" cy="728.3" r="3.0"/><circle cx="182.1" cy="720.9" r="3.0"/><circle cx="181.9" cy="731.8" r="3.0"/><circle cx="182.7" cy="696" r="3.0"/><circle cx="183.2" cy="704.9" r="3.0"/><circle cx="182.9" cy="714.8" r="3.0"/><circle cx="182.7" cy="728.6" r="3.0"/><circle cx="182.9" cy="728" r="3.0"/><circle cx="183.5" cy="704.5" r="3.0"/><circle cx="183.4" cy="717.5" r="3.0"/><circle cx="182.8" cy="712.1" r="3.0"/><circle cx="184.1" cy="729.2" r="3.0"/><circle cx="183.5" cy="703.9" r="3.0"/><circle cx="183.6" cy="708.6" r="3.0"/><circle cx="183.9" cy="712.6" r="3.0"/><circle cx="184.5" cy="716.7" r="3.0"/><circle cx="184.2" cy="683.1" r="3.0"/><circle cx="183.5" cy="682" r="3.0"/><circle cx="185.4" cy="698.5" r="3.0"/><circle cx="184.9" cy="708.5" r="3.0"/><circle cx="184.9" cy="690" r="3.0"/><circle cx="184.6" cy="695.2" r="3.0"/><circle cx="185.4" cy="726.4" r="3.0"/><circle cx="185.1" cy="715" r="3.0"/><circle cx="185.1" cy="699.6" r="3.0"/><circle cx="185.5" cy="716.1" r="3.0"/><circle cx="185.9" cy="701.1" r="3.0"/><circle cx="185.8" cy="704.2" r="3.0"/><circle cx="187.3" cy="711.7" r="3.0"/><circle cx="187.2" cy="698.3" r="3.0"/><circle cx="187.5" cy="707.5" r="3.0"/><circle cx="186.9" cy="701.3" r="3.0"/><circle cx="186.9" cy="720.6" r="3.0"/><circle cx="187.4" cy="729.2" r="3.0"/><circle cx="186.9" cy="698.8" r="3.0"/><circle cx="187.3" cy="730.8" r="3.0"/><circle cx="187.4" cy="720.8" r="3.0"/><circle cx="186.6" cy="709.6" r="3.0"/><circle cx="186.9" cy="686.6" r="3.0"/><circle cx="187.7" cy="694.4" r="3.0"/><circle cx="187.6" cy="730.7" r="3.0"/><circle cx="187.9" cy="698" r="3.0"/><circle cx="188.4" cy="696.9" r="3.0"/><circle cx="189.4" cy="720.8" r="3.0"/><circle cx="189.4" cy="692.8" r="3.0"/><circle cx="188.6" cy="687.9" r="3.0"/><circle cx="188.6" cy="679" r="3.0"/><circle cx="190" cy="700.1" r="3.0"/><circle cx="190.3" cy="698.3" r="3.0"/><circle cx="189.9" cy="692.2" r="3.0"/><circle cx="190.4" cy="726.7" r="3.0"/><circle cx="190" cy="722" r="3.0"/><circle cx="191.5" cy="727.5" r="3.0"/><circle cx="191" cy="682.4" r="3.0"/><circle cx="193" cy="709.9" r="3.0"/><circle cx="192.8" cy="720.6" r="3.0"/><circle cx="193.1" cy="698.6" r="3.0"/><circle cx="192.8" cy="713.8" r="3.0"/><circle cx="192.7" cy="696.4" r="3.0"/><circle cx="193.3" cy="710.1" r="3.0"/><circle cx="193" cy="729.4" r="3.0"/><circle cx="192.8" cy="688.3" r="3.0"/><circle cx="192.7" cy="701.7" r="3.0"/><circle cx="194" cy="688" r="3.0"/><circle cx="194.3" cy="727.1" r="3.0"/><circle cx="194.3" cy="688.2" r="3.0"/><circle cx="194.1" cy="719.5" r="3.0"/><circle cx="193.7" cy="691.1" r="3.0"/><circle cx="193.8" cy="691.7" r="3.0"/><circle cx="193.6" cy="724.9" r="3.0"/><circle cx="194.1" cy="730.1" r="3.0"/><circle cx="194" cy="703.2" r="3.0"/><circle cx="194.5" cy="686.4" r="3.0"/><circle cx="194.7" cy="704.8" r="3.0"/><circle cx="195.3" cy="696.1" r="3.0"/><circle cx="195.3" cy="721" r="3.0"/><circle cx="194.7" cy="704.8" r="3.0"/><circle cx="195.2" cy="681.6" r="3.0"/><circle cx="195.8" cy="718.7" r="3.0"/><circle cx="196.1" cy="708.5" r="3.0"/><circle cx="195.9" cy="695.1" r="3.0"/><circle cx="195.8" cy="709.6" r="3.0"/><circle cx="197.5" cy="700.3" r="3.0"/><circle cx="196.6" cy="691.4" r="3.0"/><circle cx="196.9" cy="704.9" r="3.0"/><circle cx="197.1" cy="698.7" r="3.0"/><circle cx="196.7" cy="724.1" r="3.0"/><circle cx="196.9" cy="694.7" r="3.0"/><circle cx="197.3" cy="705.5" r="3.0"/><circle cx="196.8" cy="708.4" r="3.0"/><circle cx="197" cy="679.1" r="3.0"/><circle cx="197.6" cy="709.7" r="3.0"/><circle cx="198.4" cy="694" r="3.0"/><circle cx="197.9" cy="728.6" r="3.0"/><circle cx="197.7" cy="722" r="3.0"/><circle cx="197.8" cy="687.5" r="3.0"/><circle cx="198.4" cy="704.8" r="3.0"/><circle cx="198.4" cy="698.4" r="3.0"/><circle cx="198.3" cy="713.4" r="3.0"/><circle cx="198.2" cy="725.6" r="3.0"/><circle cx="198.2" cy="693.3" r="3.0"/><circle cx="197.8" cy="702.8" r="3.0"/><circle cx="197.6" cy="684.7" r="3.0"/><circle cx="199.2" cy="724.6" r="3.0"/><circle cx="199.1" cy="705" r="3.0"/><circle cx="198.5" cy="684.1" r="3.0"/><circle cx="199.7" cy="712.7" r="3.0"/><circle cx="200" cy="727.1" r="3.0"/><circle cx="199.9" cy="707.7" r="3.0"/><circle cx="200.4" cy="706.7" r="3.0"/><circle cx="200.2" cy="711" r="3.0"/><circle cx="200.4" cy="702" r="3.0"/><circle cx="200.5" cy="694.7" r="3.0"/><circle cx="199.5" cy="713.6" r="3.0"/><circle cx="200.4" cy="716" r="3.0"/><circle cx="199.9" cy="679.7" r="3.0"/><circle cx="200.1" cy="681.5" r="3.0"/><circle cx="200.6" cy="728.5" r="3.0"/><circle cx="201" cy="724.4" r="3.0"/><circle cx="202" cy="690.6" r="3.0"/><circle cx="201.9" cy="696.2" r="3.0"/><circle cx="203.2" cy="706.3" r="3.0"/><circle cx="203.3" cy="710.1" r="3.0"/><circle cx="204.3" cy="712.2" r="3.0"/><circle cx="205.2" cy="700.5" r="3.0"/><circle cx="205.1" cy="715.2" r="3.0"/><circle cx="205.4" cy="700.8" r="3.0"/><circle cx="205.6" cy="719.1" r="3.0"/><circle cx="207.3" cy="689.1" r="3.0"/><circle cx="207.3" cy="705.6" r="3.0"/><circle cx="207.1" cy="697.8" r="3.0"/><circle cx="207.8" cy="693.6" r="3.0"/><circle cx="208.1" cy="712" r="3.0"/><circle cx="208.7" cy="717" r="3.0"/><circle cx="209.1" cy="705.3" r="3.0"/><circle cx="209.2" cy="708.1" r="3.0"/><circle cx="210.3" cy="720.8" r="3.0"/><circle cx="210.3" cy="721.1" r="3.0"/><circle cx="211" cy="691.7" r="3.0"/><circle cx="210.9" cy="713.6" r="3.0"/><circle cx="210.7" cy="702.5" r="3.0"/><circle cx="211.1" cy="724.4" r="3.0"/><circle cx="211.9" cy="695.5" r="3.0"/><circle cx="213.3" cy="694.5" r="3.0"/><circle cx="213.2" cy="683.5" r="3.0"/><circle cx="214.3" cy="705.7" r="3.0"/><circle cx="214.4" cy="709.6" r="3.0"/><circle cx="214.2" cy="692.9" r="3.0"/><circle cx="214.2" cy="696.3" r="3.0"/><circle cx="215.4" cy="701.2" r="3.0"/><circle cx="215" cy="721" r="3.0"/><circle cx="215" cy="684" r="3.0"/><circle cx="216.4" cy="707.4" r="3.0"/><circle cx="216.3" cy="699.7" r="3.0"/><circle cx="216.8" cy="704.7" r="3.0"/><circle cx="217.3" cy="693" r="3.0"/><circle cx="217.4" cy="696.2" r="3.0"/><circle cx="216.9" cy="713.7" r="3.0"/><circle cx="217.4" cy="707.4" r="3.0"/><circle cx="216.9" cy="704.3" r="3.0"/><circle cx="217" cy="698.4" r="3.0"/><circle cx="217.2" cy="720.2" r="3.0"/><circle cx="218.1" cy="698.4" r="3.0"/><circle cx="218" cy="708.2" r="3.0"/><circle cx="218.4" cy="718.8" r="3.0"/><circle cx="218.1" cy="699.4" r="3.0"/><circle cx="219.1" cy="720.4" r="3.0"/><circle cx="219.2" cy="715.6" r="3.0"/><circle cx="218.7" cy="684.5" r="3.0"/><circle cx="219.7" cy="698.2" r="3.0"/><circle cx="220.1" cy="718.7" r="3.0"/><circle cx="219.8" cy="721.1" r="3.0"/><circle cx="219.6" cy="715.1" r="3.0"/><circle cx="219.9" cy="687.6" r="3.0"/><circle cx="221" cy="713.3" r="3.0"/><circle cx="220.8" cy="708.3" r="3.0"/><circle cx="221.3" cy="706.5" r="3.0"/><circle cx="222.3" cy="717.8" r="3.0"/><circle cx="222" cy="709.8" r="3.0"/><circle cx="222" cy="719.6" r="3.0"/><circle cx="221.8" cy="716.2" r="3.0"/><circle cx="221.9" cy="718.7" r="3.0"/><circle cx="222" cy="716.1" r="3.0"/><circle cx="221.6" cy="698.1" r="3.0"/><circle cx="222.1" cy="682.1" r="3.0"/><circle cx="223.5" cy="718.5" r="3.0"/><circle cx="223.2" cy="714" r="3.0"/><circle cx="223.3" cy="708.1" r="3.0"/><circle cx="224.1" cy="704.9" r="3.0"/><circle cx="224.1" cy="690.1" r="3.0"/><circle cx="223.7" cy="720.2" r="3.0"/><circle cx="224.3" cy="699.9" r="3.0"/><circle cx="224.3" cy="695.5" r="3.0"/><circle cx="224.9" cy="713.8" r="3.0"/><circle cx="225.4" cy="695.9" r="3.0"/><circle cx="225" cy="713.6" r="3.0"/><circle cx="224.8" cy="704.9" r="3.0"/><circle cx="225.3" cy="703.2" r="3.0"/><circle cx="226.3" cy="700.8" r="3.0"/><circle cx="226.2" cy="689.5" r="3.0"/><circle cx="226.9" cy="713.5" r="3.0"/><circle cx="228" cy="706.6" r="3.0"/><circle cx="228.5" cy="711" r="3.0"/><circle cx="227.7" cy="713.6" r="3.0"/><circle cx="228.6" cy="717.6" r="3.0"/><circle cx="228.8" cy="684.1" r="3.0"/><circle cx="228.5" cy="682.8" r="3.0"/><circle cx="229.6" cy="704.4" r="3.0"/><circle cx="231.6" cy="699.3" r="3.0"/><circle cx="232" cy="713.3" r="3.0"/><circle cx="231.7" cy="683.2" r="3.0"/><circle cx="233.2" cy="711.4" r="3.0"/><circle cx="233.1" cy="694.7" r="3.0"/><circle cx="233.2" cy="690.8" r="3.0"/><circle cx="233.5" cy="690.7" r="3.0"/><circle cx="234" cy="717.6" r="3.0"/><circle cx="233.9" cy="713.8" r="3.0"/><circle cx="235.1" cy="686.5" r="3.0"/><circle cx="235.1" cy="703.4" r="3.0"/><circle cx="235.2" cy="696.5" r="3.0"/><circle cx="236.4" cy="689" r="3.0"/><circle cx="235.9" cy="710.9" r="3.0"/><circle cx="235.9" cy="697.7" r="3.0"/><circle cx="236.8" cy="693.3" r="3.0"/><circle cx="237.7" cy="692.5" r="3.0"/><circle cx="237.6" cy="702.8" r="3.0"/><circle cx="239" cy="712.8" r="3.0"/><circle cx="240.1" cy="710.3" r="3.0"/><circle cx="240.6" cy="707.4" r="3.0"/><circle cx="241.2" cy="684.9" r="3.0"/><circle cx="241.2" cy="698" r="3.0"/><circle cx="242.4" cy="708.5" r="3.0"/><circle cx="241.6" cy="686.1" r="3.0"/><circle cx="243.4" cy="685.6" r="3.0"/><circle cx="243.3" cy="697.2" r="3.0"/><circle cx="243.3" cy="693.2" r="3.0"/><circle cx="243.1" cy="707" r="3.0"/><circle cx="244.1" cy="688.8" r="3.0"/><circle cx="243.5" cy="681" r="3.0"/><circle cx="244.3" cy="708.5" r="3.0"/><circle cx="243.8" cy="712.9" r="3.0"/><circle cx="243.7" cy="682.8" r="3.0"/><circle cx="245.5" cy="696.4" r="3.0"/><circle cx="245.1" cy="702.1" r="3.0"/><circle cx="245.4" cy="703.7" r="3.0"/><circle cx="245.4" cy="686.4" r="3.0"/><circle cx="245.8" cy="686.9" r="3.0"/><circle cx="246" cy="688.7" r="3.0"/><circle cx="246.1" cy="693" r="3.0"/><circle cx="246" cy="699.2" r="3.0"/><circle cx="245.6" cy="670.6" r="3.0"/><circle cx="246.7" cy="680.1" r="3.0"/><circle cx="247.4" cy="705.2" r="3.0"/><circle cx="246.7" cy="681.1" r="3.0"/><circle cx="247.1" cy="685.2" r="3.0"/><circle cx="247.2" cy="707.8" r="3.0"/><circle cx="247.4" cy="675.6" r="3.0"/><circle cx="247.7" cy="685.1" r="3.0"/><circle cx="248.2" cy="708.4" r="3.0"/><circle cx="247.8" cy="697.7" r="3.0"/><circle cx="248.1" cy="672.1" r="3.0"/><circle cx="248" cy="669.7" r="3.0"/><circle cx="248.7" cy="686.7" r="3.0"/><circle cx="249.4" cy="677.2" r="3.0"/><circle cx="249.3" cy="690.6" r="3.0"/><circle cx="249.5" cy="710.8" r="3.0"/><circle cx="249.8" cy="695.1" r="3.0"/><circle cx="249.6" cy="702.4" r="3.0"/><circle cx="250.2" cy="709.2" r="3.0"/><circle cx="249.9" cy="703.9" r="3.0"/><circle cx="251.4" cy="698" r="3.0"/><circle cx="251.5" cy="688.9" r="3.0"/><circle cx="251.1" cy="668.7" r="3.0"/><circle cx="250.6" cy="670.4" r="3.0"/><circle cx="251.9" cy="682.8" r="3.0"/><circle cx="251.7" cy="700.6" r="3.0"/><circle cx="252.5" cy="690.2" r="3.0"/><circle cx="252.1" cy="669.6" r="3.0"/><circle cx="252.7" cy="696.5" r="3.0"/><circle cx="252.8" cy="684.9" r="3.0"/><circle cx="253" cy="708.1" r="3.0"/><circle cx="253.5" cy="687.7" r="3.0"/><circle cx="252.5" cy="687.3" r="3.0"/><circle cx="253.4" cy="686.2" r="3.0"/><circle cx="253.3" cy="688.8" r="3.0"/><circle cx="252.5" cy="707" r="3.0"/><circle cx="253.7" cy="685" r="3.0"/><circle cx="253.8" cy="697.8" r="3.0"/><circle cx="254.3" cy="707.7" r="3.0"/><circle cx="254.6" cy="687.8" r="3.0"/><circle cx="255" cy="695" r="3.0"/><circle cx="255.2" cy="704.5" r="3.0"/><circle cx="255.4" cy="707.6" r="3.0"/><circle cx="255.5" cy="678.4" r="3.0"/><circle cx="256.3" cy="710.1" r="3.0"/><circle cx="256.2" cy="693" r="3.0"/><circle cx="256.1" cy="674.7" r="3.0"/><circle cx="257" cy="675.6" r="3.0"/><circle cx="257.2" cy="687.4" r="3.0"/><circle cx="257.5" cy="687.7" r="3.0"/><circle cx="257" cy="698.7" r="3.0"/><circle cx="257.4" cy="698.6" r="3.0"/><circle cx="256.6" cy="693.1" r="3.0"/><circle cx="256.6" cy="702.1" r="3.0"/><circle cx="256.9" cy="675.8" r="3.0"/><circle cx="258.4" cy="692.1" r="3.0"/><circle cx="257.6" cy="702.2" r="3.0"/><circle cx="258" cy="692" r="3.0"/><circle cx="259.2" cy="680.8" r="3.0"/><circle cx="259" cy="706.9" r="3.0"/><circle cx="258.9" cy="705.8" r="3.0"/><circle cx="259.4" cy="677.9" r="3.0"/><circle cx="258.7" cy="699.2" r="3.0"/><circle cx="258.8" cy="664.3" r="3.0"/><circle cx="260.4" cy="702.1" r="3.0"/><circle cx="260" cy="689.6" r="3.0"/><circle cx="259.8" cy="706.3" r="3.0"/><circle cx="260" cy="706.1" r="3.0"/><circle cx="261" cy="702.2" r="3.0"/><circle cx="260.8" cy="673.3" r="3.0"/><circle cx="260.7" cy="697.2" r="3.0"/><circle cx="262.4" cy="700.9" r="3.0"/><circle cx="262.2" cy="672.3" r="3.0"/><circle cx="261.9" cy="666.5" r="3.0"/><circle cx="263.2" cy="707.2" r="3.0"/><circle cx="263.3" cy="706.9" r="3.0"/><circle cx="263.3" cy="653.7" r="3.0"/><circle cx="264.3" cy="698.3" r="3.0"/><circle cx="264.4" cy="675.8" r="3.0"/><circle cx="263.9" cy="691.9" r="3.0"/><circle cx="264.4" cy="706.4" r="3.0"/><circle cx="264.5" cy="696.8" r="3.0"/><circle cx="264.3" cy="664" r="3.0"/><circle cx="265" cy="702.7" r="3.0"/><circle cx="265.2" cy="666" r="3.0"/><circle cx="264.5" cy="703.9" r="3.0"/><circle cx="264.9" cy="674.1" r="3.0"/><circle cx="266.1" cy="655.3" r="3.0"/><circle cx="265.7" cy="638.4" r="3.0"/><circle cx="265.6" cy="674.5" r="3.0"/><circle cx="267.3" cy="674.6" r="3.0"/><circle cx="267.5" cy="670.8" r="3.0"/><circle cx="267.5" cy="687.4" r="3.0"/><circle cx="266.8" cy="661" r="3.0"/><circle cx="266.7" cy="645.1" r="3.0"/><circle cx="268.4" cy="685.3" r="3.0"/><circle cx="268.1" cy="690.6" r="3.0"/><circle cx="268.3" cy="699.9" r="3.0"/><circle cx="268" cy="658.8" r="3.0"/><circle cx="267.7" cy="638.4" r="3.0"/><circle cx="268.3" cy="699" r="3.0"/><circle cx="269.4" cy="642.7" r="3.0"/><circle cx="269.2" cy="664.9" r="3.0"/><circle cx="268.9" cy="660.4" r="3.0"/><circle cx="269.2" cy="682" r="3.0"/><circle cx="269.1" cy="670" r="3.0"/><circle cx="269" cy="647.9" r="3.0"/><circle cx="268.8" cy="651.1" r="3.0"/><circle cx="269.1" cy="646.7" r="3.0"/><circle cx="269.2" cy="702" r="3.0"/><circle cx="268.9" cy="679.7" r="3.0"/><circle cx="269.2" cy="672.6" r="3.0"/><circle cx="270" cy="685.8" r="3.0"/><circle cx="270" cy="642.4" r="3.0"/><circle cx="269.5" cy="648" r="3.0"/><circle cx="269.8" cy="700" r="3.0"/><circle cx="269.7" cy="643.2" r="3.0"/><circle cx="270.5" cy="679.3" r="3.0"/><circle cx="270.8" cy="681.7" r="3.0"/><circle cx="271.3" cy="702.1" r="3.0"/><circle cx="270.7" cy="666.2" r="3.0"/><circle cx="271.5" cy="698.8" r="3.0"/><circle cx="271.2" cy="703.5" r="3.0"/><circle cx="271.4" cy="659" r="3.0"/><circle cx="271.4" cy="670.4" r="3.0"/><circle cx="271.3" cy="663.7" r="3.0"/><circle cx="271.7" cy="689.2" r="3.0"/><circle cx="272.4" cy="642.2" r="3.0"/><circle cx="272.4" cy="704.3" r="3.0"/><circle cx="272.3" cy="682.5" r="3.0"/><circle cx="272.4" cy="651.4" r="3.0"/><circle cx="272.2" cy="695.9" r="3.0"/><circle cx="272" cy="629.1" r="3.0"/><circle cx="272.5" cy="691.6" r="3.0"/><circle cx="272.8" cy="688.2" r="3.0"/><circle cx="273.1" cy="671.6" r="3.0"/><circle cx="272.7" cy="661.3" r="3.0"/><circle cx="272.9" cy="689.5" r="3.0"/><circle cx="272.7" cy="700.5" r="3.0"/><circle cx="272.6" cy="649.9" r="3.0"/><circle cx="272.6" cy="651.2" r="3.0"/><circle cx="273.8" cy="671.9" r="3.0"/><circle cx="274" cy="703.4" r="3.0"/><circle cx="274.3" cy="693" r="3.0"/><circle cx="274.1" cy="666.9" r="3.0"/><circle cx="274.1" cy="665.3" r="3.0"/><circle cx="274.4" cy="701.7" r="3.0"/><circle cx="273.9" cy="653.7" r="3.0"/><circle cx="274.1" cy="649.2" r="3.0"/><circle cx="273.7" cy="653.8" r="3.0"/><circle cx="275" cy="693.9" r="3.0"/><circle cx="275.1" cy="651.8" r="3.0"/><circle cx="274.8" cy="678.6" r="3.0"/><circle cx="274.8" cy="703.4" r="3.0"/><circle cx="274.9" cy="662.7" r="3.0"/><circle cx="275.6" cy="646.9" r="3.0"/><circle cx="275.9" cy="657.8" r="3.0"/><circle cx="276.3" cy="658.3" r="3.0"/><circle cx="276.4" cy="683.5" r="3.0"/><circle cx="276" cy="649.6" r="3.0"/><circle cx="275.9" cy="653" r="3.0"/><circle cx="276.2" cy="702.5" r="3.0"/><circle cx="276" cy="698.1" r="3.0"/><circle cx="276" cy="685.1" r="3.0"/><circle cx="276.4" cy="653.8" r="3.0"/><circle cx="276.7" cy="696.2" r="3.0"/><circle cx="277.1" cy="667.2" r="3.0"/><circle cx="276.8" cy="657.2" r="3.0"/><circle cx="276.8" cy="669.1" r="3.0"/><circle cx="277.1" cy="664.1" r="3.0"/><circle cx="277.2" cy="694.1" r="3.0"/><circle cx="277" cy="641.8" r="3.0"/><circle cx="277.3" cy="672.3" r="3.0"/><circle cx="276.5" cy="685.7" r="3.0"/><circle cx="276.7" cy="690.6" r="3.0"/><circle cx="278.3" cy="680.2" r="3.0"/><circle cx="278.1" cy="692.6" r="3.0"/><circle cx="277.8" cy="671.8" r="3.0"/><circle cx="278.1" cy="639.3" r="3.0"/><circle cx="277.9" cy="698.6" r="3.0"/><circle cx="277.6" cy="697.5" r="3.0"/><circle cx="278.9" cy="689" r="3.0"/><circle cx="278.5" cy="651" r="3.0"/><circle cx="278.5" cy="645.2" r="3.0"/><circle cx="278.6" cy="674.4" r="3.0"/><circle cx="278.9" cy="701.1" r="3.0"/><circle cx="278.8" cy="680.3" r="3.0"/><circle cx="279.5" cy="682.5" r="3.0"/><circle cx="280.3" cy="669.8" r="3.0"/><circle cx="279.9" cy="681.6" r="3.0"/><circle cx="279.9" cy="677.4" r="3.0"/><circle cx="280.4" cy="674.9" r="3.0"/><circle cx="280.2" cy="668.6" r="3.0"/><circle cx="280.6" cy="685.6" r="3.0"/><circle cx="281" cy="679.8" r="3.0"/><circle cx="281.1" cy="699.5" r="3.0"/><circle cx="280.8" cy="662" r="3.0"/><circle cx="282.3" cy="698.1" r="3.0"/><circle cx="281.7" cy="677.7" r="3.0"/><circle cx="281.8" cy="681.6" r="3.0"/><circle cx="281.8" cy="687.1" r="3.0"/><circle cx="282.7" cy="652.8" r="3.0"/><circle cx="282.8" cy="677" r="3.0"/><circle cx="282.9" cy="664.1" r="3.0"/><circle cx="282.7" cy="686.2" r="3.0"/><circle cx="283.3" cy="655.9" r="3.0"/><circle cx="282.7" cy="680" r="3.0"/><circle cx="282.9" cy="653.5" r="3.0"/><circle cx="283.7" cy="686.4" r="3.0"/><circle cx="283.5" cy="673" r="3.0"/><circle cx="284.5" cy="698.1" r="3.0"/><circle cx="283.7" cy="655.2" r="3.0"/><circle cx="283.9" cy="697.4" r="3.0"/><circle cx="284.5" cy="685" r="3.0"/><circle cx="285.4" cy="656.1" r="3.0"/><circle cx="285.4" cy="687.2" r="3.0"/><circle cx="285.6" cy="677.6" r="3.0"/><circle cx="286.1" cy="692" r="3.0"/><circle cx="285.7" cy="676" r="3.0"/><circle cx="286.1" cy="653.5" r="3.0"/><circle cx="286.7" cy="650.9" r="3.0"/><circle cx="286.8" cy="662.9" r="3.0"/><circle cx="287.3" cy="664.5" r="3.0"/><circle cx="287.6" cy="660.1" r="3.0"/><circle cx="288.4" cy="682.3" r="3.0"/><circle cx="287.7" cy="642" r="3.0"/><circle cx="289.1" cy="680.3" r="3.0"/><circle cx="289.3" cy="685.3" r="3.0"/><circle cx="288.6" cy="686.5" r="3.0"/><circle cx="288.7" cy="689.5" r="3.0"/><circle cx="288.8" cy="680.9" r="3.0"/><circle cx="288.9" cy="689.1" r="3.0"/><circle cx="288.7" cy="681.6" r="3.0"/><circle cx="289.6" cy="680.5" r="3.0"/><circle cx="289.9" cy="674.4" r="3.0"/><circle cx="290" cy="673.4" r="3.0"/><circle cx="289.9" cy="663.4" r="3.0"/><circle cx="290.4" cy="671.1" r="3.0"/><circle cx="290.1" cy="646.2" r="3.0"/><circle cx="290.3" cy="677.8" r="3.0"/><circle cx="289.6" cy="654.7" r="3.0"/><circle cx="291.2" cy="654.7" r="3.0"/><circle cx="291" cy="678.7" r="3.0"/><circle cx="290.9" cy="688.6" r="3.0"/><circle cx="290.8" cy="679.7" r="3.0"/><circle cx="291.5" cy="675.8" r="3.0"/><circle cx="291" cy="666.5" r="3.0"/><circle cx="291.3" cy="695" r="3.0"/><circle cx="292.4" cy="690.7" r="3.0"/><circle cx="292.1" cy="676.6" r="3.0"/><circle cx="291.6" cy="683" r="3.0"/><circle cx="292.5" cy="660.7" r="3.0"/><circle cx="292.2" cy="646.6" r="3.0"/><circle cx="293.3" cy="657.2" r="3.0"/><circle cx="293.4" cy="642.9" r="3.0"/><circle cx="293.8" cy="683.7" r="3.0"/><circle cx="294.3" cy="658.8" r="3.0"/><circle cx="294.1" cy="649.6" r="3.0"/><circle cx="294.2" cy="647.1" r="3.0"/><circle cx="293.9" cy="661.2" r="3.0"/><circle cx="294.5" cy="687.4" r="3.0"/><circle cx="294.6" cy="669.2" r="3.0"/><circle cx="294.9" cy="664.3" r="3.0"/><circle cx="294.8" cy="658.6" r="3.0"/><circle cx="295.4" cy="658.2" r="3.0"/><circle cx="294.9" cy="689.6" r="3.0"/><circle cx="295.1" cy="641.8" r="3.0"/><circle cx="295.1" cy="645" r="3.0"/><circle cx="296" cy="686.9" r="3.0"/><circle cx="296.5" cy="648.3" r="3.0"/><circle cx="295.7" cy="686.8" r="3.0"/><circle cx="295.6" cy="678.7" r="3.0"/><circle cx="295.7" cy="692.3" r="3.0"/><circle cx="297.2" cy="690.6" r="3.0"/><circle cx="297" cy="664.4" r="3.0"/><circle cx="297.5" cy="666.3" r="3.0"/><circle cx="296.8" cy="656" r="3.0"/><circle cx="296.9" cy="667.3" r="3.0"/><circle cx="296.9" cy="672.6" r="3.0"/><circle cx="296.9" cy="669" r="3.0"/><circle cx="297" cy="649.7" r="3.0"/><circle cx="297.5" cy="690.3" r="3.0"/><circle cx="297.4" cy="668" r="3.0"/><circle cx="297.8" cy="679.9" r="3.0"/><circle cx="298.2" cy="666.5" r="3.0"/><circle cx="298.3" cy="652.4" r="3.0"/><circle cx="297.7" cy="681.7" r="3.0"/><circle cx="297.8" cy="661.1" r="3.0"/><circle cx="299.5" cy="669.7" r="3.0"/><circle cx="299.5" cy="657.4" r="3.0"/><circle cx="298.9" cy="668.8" r="3.0"/><circle cx="298.7" cy="671.2" r="3.0"/><circle cx="299" cy="659.2" r="3.0"/><circle cx="300.1" cy="689.5" r="3.0"/><circle cx="299.8" cy="664" r="3.0"/><circle cx="300.2" cy="651.8" r="3.0"/><circle cx="299.9" cy="666" r="3.0"/><circle cx="300.4" cy="676.4" r="3.0"/><circle cx="300" cy="675.1" r="3.0"/><circle cx="300.2" cy="649.8" r="3.0"/><circle cx="301" cy="676.3" r="3.0"/><circle cx="300.8" cy="682.4" r="3.0"/><circle cx="301.2" cy="666.3" r="3.0"/><circle cx="300.7" cy="675.7" r="3.0"/><circle cx="301.7" cy="653.8" r="3.0"/><circle cx="301.8" cy="654" r="3.0"/><circle cx="302.5" cy="665.2" r="3.0"/><circle cx="302.7" cy="659.1" r="3.0"/><circle cx="302.8" cy="692.3" r="3.0"/><circle cx="303" cy="656.9" r="3.0"/><circle cx="302.8" cy="679.7" r="3.0"/><circle cx="302.6" cy="641.4" r="3.0"/><circle cx="304.1" cy="665" r="3.0"/><circle cx="304.4" cy="669.7" r="3.0"/><circle cx="303.9" cy="675.1" r="3.0"/><circle cx="305.5" cy="656.6" r="3.0"/><circle cx="305.4" cy="683" r="3.0"/><circle cx="304.9" cy="683.3" r="3.0"/><circle cx="304.8" cy="662.7" r="3.0"/><circle cx="305.1" cy="691.3" r="3.0"/><circle cx="305.4" cy="678.8" r="3.0"/><circle cx="304.6" cy="669.4" r="3.0"/><circle cx="305.7" cy="652.3" r="3.0"/><circle cx="306" cy="646.8" r="3.0"/><circle cx="306.2" cy="645.2" r="3.0"/><circle cx="306.7" cy="686.8" r="3.0"/><circle cx="306.8" cy="681.8" r="3.0"/><circle cx="306.8" cy="664.3" r="3.0"/><circle cx="306.7" cy="682.3" r="3.0"/><circle cx="308.2" cy="662.8" r="3.0"/><circle cx="307.5" cy="659.8" r="3.0"/><circle cx="307.8" cy="672" r="3.0"/><circle cx="309.4" cy="678.2" r="3.0"/><circle cx="309.1" cy="678.8" r="3.0"/><circle cx="309" cy="689" r="3.0"/><circle cx="308.7" cy="675" r="3.0"/><circle cx="308.6" cy="650" r="3.0"/><circle cx="309.8" cy="687.6" r="3.0"/><circle cx="309.5" cy="685.6" r="3.0"/><circle cx="309.7" cy="662.1" r="3.0"/><circle cx="309.7" cy="656.1" r="3.0"/><circle cx="309.8" cy="655" r="3.0"/><circle cx="310.2" cy="656" r="3.0"/><circle cx="310" cy="661.5" r="3.0"/><circle cx="310.4" cy="663.3" r="3.0"/><circle cx="310.2" cy="669" r="3.0"/><circle cx="310.8" cy="664.5" r="3.0"/><circle cx="311.4" cy="655.2" r="3.0"/><circle cx="311" cy="669.8" r="3.0"/><circle cx="310.5" cy="648.7" r="3.0"/><circle cx="311.8" cy="683.4" r="3.0"/><circle cx="312.3" cy="686.5" r="3.0"/><circle cx="311.8" cy="683.7" r="3.0"/><circle cx="312.6" cy="652.1" r="3.0"/><circle cx="312.6" cy="663.2" r="3.0"/><circle cx="312.8" cy="667.6" r="3.0"/><circle cx="313.2" cy="653.4" r="3.0"/><circle cx="312.5" cy="658" r="3.0"/><circle cx="313.8" cy="651.3" r="3.0"/><circle cx="315" cy="686.5" r="3.0"/><circle cx="315.3" cy="682.6" r="3.0"/><circle cx="314.7" cy="687.3" r="3.0"/><circle cx="314.9" cy="643.2" r="3.0"/><circle cx="315.9" cy="669.4" r="3.0"/><circle cx="316" cy="650.7" r="3.0"/><circle cx="317" cy="668.3" r="3.0"/><circle cx="317.5" cy="663.1" r="3.0"/><circle cx="317.1" cy="655.3" r="3.0"/><circle cx="318.4" cy="672.8" r="3.0"/><circle cx="318.5" cy="676.4" r="3.0"/><circle cx="318.4" cy="670.7" r="3.0"/><circle cx="318.7" cy="663.4" r="3.0"/><circle cx="318.9" cy="663.4" r="3.0"/><circle cx="320.2" cy="680.3" r="3.0"/><circle cx="320.2" cy="679.1" r="3.0"/><circle cx="320.1" cy="666.2" r="3.0"/><circle cx="319.6" cy="682.5" r="3.0"/><circle cx="321.2" cy="665.9" r="3.0"/><circle cx="320.5" cy="673.8" r="3.0"/><circle cx="321.2" cy="651.2" r="3.0"/><circle cx="321" cy="677.8" r="3.0"/><circle cx="323.2" cy="679.9" r="3.0"/><circle cx="323.8" cy="655.7" r="3.0"/><circle cx="324.1" cy="676.9" r="3.0"/><circle cx="323.9" cy="664.7" r="3.0"/><circle cx="323.7" cy="657.5" r="3.0"/><circle cx="324.2" cy="681.7" r="3.0"/><circle cx="324.9" cy="676.9" r="3.0"/><circle cx="324.5" cy="652.1" r="3.0"/><circle cx="325.1" cy="658" r="3.0"/><circle cx="324.9" cy="655.1" r="3.0"/><circle cx="324.9" cy="656.6" r="3.0"/><circle cx="325.1" cy="665.4" r="3.0"/><circle cx="325.3" cy="657.9" r="3.0"/><circle cx="325.1" cy="665.3" r="3.0"/><circle cx="325.7" cy="661.6" r="3.0"/><circle cx="325.6" cy="672.6" r="3.0"/><circle cx="326.8" cy="657.9" r="3.0"/><circle cx="326.8" cy="658.3" r="3.0"/><circle cx="326.6" cy="681.4" r="3.0"/><circle cx="326.8" cy="656.2" r="3.0"/><circle cx="327.2" cy="660" r="3.0"/><circle cx="327.6" cy="653.2" r="3.0"/><circle cx="329.1" cy="676.6" r="3.0"/><circle cx="329.8" cy="664.5" r="3.0"/><circle cx="329.7" cy="652.3" r="3.0"/><circle cx="331.2" cy="662.4" r="3.0"/><circle cx="331" cy="666.9" r="3.0"/><circle cx="331.8" cy="669.4" r="3.0"/><circle cx="331.6" cy="656.4" r="3.0"/><circle cx="331.6" cy="660.1" r="3.0"/><circle cx="333.1" cy="680.5" r="3.0"/><circle cx="333" cy="652.4" r="3.0"/><circle cx="332.9" cy="655.3" r="3.0"/><circle cx="332.6" cy="678.1" r="3.0"/><circle cx="332.7" cy="656" r="3.0"/><circle cx="333.6" cy="678.4" r="3.0"/><circle cx="333.7" cy="670.9" r="3.0"/><circle cx="335.4" cy="663.9" r="3.0"/><circle cx="335" cy="675.9" r="3.0"/><circle cx="334.5" cy="647.3" r="3.0"/><circle cx="335.7" cy="655.5" r="3.0"/><circle cx="337.5" cy="641.4" r="3.0"/><circle cx="337.7" cy="658.9" r="3.0"/><circle cx="337.6" cy="674.6" r="3.0"/><circle cx="338.2" cy="678.3" r="3.0"/><circle cx="338.4" cy="652.4" r="3.0"/><circle cx="339" cy="662" r="3.0"/><circle cx="338.6" cy="662.8" r="3.0"/><circle cx="340.2" cy="665.9" r="3.0"/><circle cx="339.8" cy="671.8" r="3.0"/><circle cx="340.4" cy="659.8" r="3.0"/><circle cx="340.2" cy="654.8" r="3.0"/><circle cx="340.2" cy="649.2" r="3.0"/><circle cx="340.6" cy="663.2" r="3.0"/><circle cx="340.7" cy="648" r="3.0"/><circle cx="340.9" cy="677.5" r="3.0"/><circle cx="340.6" cy="659.5" r="3.0"/><circle cx="340.7" cy="656.5" r="3.0"/><circle cx="341.2" cy="649.5" r="3.0"/><circle cx="341.1" cy="666.4" r="3.0"/><circle cx="340.7" cy="669.9" r="3.0"/><circle cx="341.4" cy="643.9" r="3.0"/><circle cx="341.5" cy="646.6" r="3.0"/><circle cx="341.4" cy="656.6" r="3.0"/><circle cx="341.1" cy="645.3" r="3.0"/><circle cx="341.3" cy="670.9" r="3.0"/><circle cx="342.4" cy="640.7" r="3.0"/><circle cx="342.4" cy="664.9" r="3.0"/><circle cx="342.4" cy="656.6" r="3.0"/><circle cx="341.7" cy="634" r="3.0"/><circle cx="342" cy="670.9" r="3.0"/><circle cx="342.3" cy="630.1" r="3.0"/><circle cx="343.4" cy="666" r="3.0"/><circle cx="343.3" cy="650.3" r="3.0"/><circle cx="343.2" cy="639.8" r="3.0"/><circle cx="343" cy="676" r="3.0"/><circle cx="342.7" cy="647.6" r="3.0"/><circle cx="343.3" cy="634.9" r="3.0"/><circle cx="343" cy="629.1" r="3.0"/><circle cx="342.7" cy="624.6" r="3.0"/><circle cx="342.8" cy="649.1" r="3.0"/><circle cx="343.1" cy="654.2" r="3.0"/><circle cx="342.7" cy="658.1" r="3.0"/><circle cx="343.2" cy="633" r="3.0"/><circle cx="342.8" cy="622.7" r="3.0"/><circle cx="343.7" cy="642" r="3.0"/><circle cx="343.8" cy="653.7" r="3.0"/><circle cx="343.8" cy="663" r="3.0"/><circle cx="344.3" cy="639.8" r="3.0"/><circle cx="343.6" cy="642.6" r="3.0"/><circle cx="343.6" cy="658.5" r="3.0"/><circle cx="345" cy="672.7" r="3.0"/><circle cx="344.6" cy="657.1" r="3.0"/><circle cx="344.6" cy="652.8" r="3.0"/><circle cx="345.4" cy="628.8" r="3.0"/><circle cx="345.1" cy="663.8" r="3.0"/><circle cx="346.1" cy="657.3" r="3.0"/><circle cx="346.1" cy="647.7" r="3.0"/><circle cx="345.8" cy="645.5" r="3.0"/><circle cx="346.1" cy="668.6" r="3.0"/><circle cx="345.6" cy="624.1" r="3.0"/><circle cx="346.2" cy="674.8" r="3.0"/><circle cx="346.3" cy="648.1" r="3.0"/><circle cx="345.8" cy="618.4" r="3.0"/><circle cx="346.9" cy="659.1" r="3.0"/><circle cx="347.2" cy="651.5" r="3.0"/><circle cx="347.2" cy="658" r="3.0"/><circle cx="347.3" cy="636.3" r="3.0"/><circle cx="346.7" cy="660.7" r="3.0"/><circle cx="347.3" cy="650.9" r="3.0"/><circle cx="347" cy="666.1" r="3.0"/><circle cx="347.3" cy="650.2" r="3.0"/><circle cx="348" cy="630.8" r="3.0"/><circle cx="348" cy="627.2" r="3.0"/><circle cx="347.7" cy="626.6" r="3.0"/><circle cx="348.4" cy="635.7" r="3.0"/><circle cx="347.7" cy="670.4" r="3.0"/><circle cx="348.2" cy="662.4" r="3.0"/><circle cx="347.9" cy="624.5" r="3.0"/><circle cx="347.8" cy="616.8" r="3.0"/><circle cx="348.6" cy="627.1" r="3.0"/><circle cx="348.9" cy="640.2" r="3.0"/><circle cx="348.7" cy="644.1" r="3.0"/><circle cx="348.9" cy="640.1" r="3.0"/><circle cx="348.8" cy="642.7" r="3.0"/><circle cx="349.5" cy="654.3" r="3.0"/><circle cx="349.2" cy="619" r="3.0"/><circle cx="349.8" cy="645.7" r="3.0"/><circle cx="349.6" cy="631.4" r="3.0"/><circle cx="349.6" cy="624.6" r="3.0"/><circle cx="350" cy="632" r="3.0"/><circle cx="349.6" cy="641.6" r="3.0"/><circle cx="349.7" cy="641.1" r="3.0"/><circle cx="350.3" cy="645" r="3.0"/><circle cx="350.5" cy="665.5" r="3.0"/><circle cx="349.9" cy="632.3" r="3.0"/><circle cx="350.3" cy="653.8" r="3.0"/><circle cx="351" cy="632.9" r="3.0"/><circle cx="350.9" cy="668.9" r="3.0"/><circle cx="351.1" cy="629.7" r="3.0"/><circle cx="350.7" cy="638.9" r="3.0"/><circle cx="350.7" cy="673.1" r="3.0"/><circle cx="350.6" cy="663.7" r="3.0"/><circle cx="351" cy="625.6" r="3.0"/><circle cx="350.9" cy="667.2" r="3.0"/><circle cx="351.3" cy="667.5" r="3.0"/><circle cx="351.3" cy="652.6" r="3.0"/><circle cx="351" cy="672.2" r="3.0"/><circle cx="351.4" cy="667.3" r="3.0"/><circle cx="351.8" cy="660.8" r="3.0"/><circle cx="352" cy="666.4" r="3.0"/><circle cx="351.5" cy="662.1" r="3.0"/><circle cx="352.3" cy="661.8" r="3.0"/><circle cx="352.9" cy="632.3" r="3.0"/><circle cx="353.3" cy="644.8" r="3.0"/><circle cx="353" cy="650" r="3.0"/><circle cx="353.3" cy="650.9" r="3.0"/><circle cx="352.9" cy="634.4" r="3.0"/><circle cx="352.7" cy="663.1" r="3.0"/><circle cx="353" cy="636.8" r="3.0"/><circle cx="352.7" cy="634.7" r="3.0"/><circle cx="353.8" cy="639.5" r="3.0"/><circle cx="354.1" cy="632.3" r="3.0"/><circle cx="353.6" cy="633.3" r="3.0"/><circle cx="354.4" cy="657.8" r="3.0"/><circle cx="354.2" cy="644.5" r="3.0"/><circle cx="355" cy="654.2" r="3.0"/><circle cx="355.1" cy="634.2" r="3.0"/><circle cx="354.5" cy="639.8" r="3.0"/><circle cx="355.1" cy="628.9" r="3.0"/><circle cx="354.8" cy="657.1" r="3.0"/><circle cx="354.9" cy="653.6" r="3.0"/><circle cx="355.2" cy="655.8" r="3.0"/><circle cx="354.5" cy="629.3" r="3.0"/><circle cx="355.2" cy="668.4" r="3.0"/><circle cx="355.2" cy="647" r="3.0"/><circle cx="354.6" cy="618" r="3.0"/><circle cx="355.8" cy="663.5" r="3.0"/><circle cx="356.4" cy="665.8" r="3.0"/><circle cx="356.2" cy="637.5" r="3.0"/><circle cx="355.9" cy="640" r="3.0"/><circle cx="356.3" cy="670.3" r="3.0"/><circle cx="356.2" cy="645.8" r="3.0"/><circle cx="355.6" cy="620.8" r="3.0"/><circle cx="356.8" cy="649.4" r="3.0"/><circle cx="356.7" cy="630.8" r="3.0"/><circle cx="356.5" cy="648.1" r="3.0"/><circle cx="357.6" cy="661.2" r="3.0"/><circle cx="357.8" cy="645.6" r="3.0"/><circle cx="358.1" cy="646.4" r="3.0"/><circle cx="357.6" cy="667.4" r="3.0"/><circle cx="357.7" cy="669.5" r="3.0"/><circle cx="358.2" cy="637.1" r="3.0"/><circle cx="357.9" cy="666.4" r="3.0"/><circle cx="358.2" cy="635.9" r="3.0"/><circle cx="358" cy="633.4" r="3.0"/><circle cx="357.7" cy="621.5" r="3.0"/><circle cx="358.6" cy="653.4" r="3.0"/><circle cx="359.2" cy="629.1" r="3.0"/><circle cx="358.9" cy="668.4" r="3.0"/><circle cx="358.8" cy="631.6" r="3.0"/><circle cx="359.4" cy="642.9" r="3.0"/><circle cx="359.2" cy="652.6" r="3.0"/><circle cx="359.2" cy="638.1" r="3.0"/><circle cx="359" cy="652.8" r="3.0"/><circle cx="359.2" cy="662.6" r="3.0"/><circle cx="358.9" cy="660.2" r="3.0"/><circle cx="359" cy="634.9" r="3.0"/><circle cx="358.5" cy="666.9" r="3.0"/><circle cx="359.4" cy="645.5" r="3.0"/><circle cx="358.5" cy="616.5" r="3.0"/><circle cx="359.2" cy="622.4" r="3.0"/><circle cx="359.7" cy="648.1" r="3.0"/><circle cx="360.1" cy="648.4" r="3.0"/><circle cx="359.5" cy="659.8" r="3.0"/><circle cx="360" cy="634.8" r="3.0"/><circle cx="359.6" cy="652.8" r="3.0"/><circle cx="360.5" cy="663.6" r="3.0"/><circle cx="360" cy="639.3" r="3.0"/><circle cx="359.7" cy="666" r="3.0"/><circle cx="359.6" cy="642.1" r="3.0"/><circle cx="359.8" cy="635.4" r="3.0"/><circle cx="361.5" cy="652.5" r="3.0"/><circle cx="361.4" cy="630.8" r="3.0"/><circle cx="360.5" cy="634.4" r="3.0"/><circle cx="362.3" cy="643.9" r="3.0"/><circle cx="362.4" cy="630.6" r="3.0"/><circle cx="362.3" cy="640.4" r="3.0"/><circle cx="362.2" cy="640.9" r="3.0"/><circle cx="362.4" cy="654.1" r="3.0"/><circle cx="363" cy="630.3" r="3.0"/><circle cx="363.4" cy="658.2" r="3.0"/><circle cx="362.7" cy="632.9" r="3.0"/><circle cx="363.5" cy="668.1" r="3.0"/><circle cx="362.8" cy="668.2" r="3.0"/><circle cx="364.4" cy="642.5" r="3.0"/><circle cx="363.7" cy="634" r="3.0"/><circle cx="363.6" cy="653.9" r="3.0"/><circle cx="363.7" cy="631.3" r="3.0"/><circle cx="363.7" cy="632.8" r="3.0"/><circle cx="365.3" cy="637.5" r="3.0"/><circle cx="364.9" cy="634.8" r="3.0"/><circle cx="364.8" cy="637.2" r="3.0"/><circle cx="365.8" cy="637.8" r="3.0"/><circle cx="366.2" cy="634.9" r="3.0"/><circle cx="366.1" cy="632.9" r="3.0"/><circle cx="365.9" cy="629.9" r="3.0"/><circle cx="365.6" cy="650.5" r="3.0"/><circle cx="366.3" cy="650.2" r="3.0"/><circle cx="366.4" cy="654.9" r="3.0"/><circle cx="366.1" cy="662.5" r="3.0"/><circle cx="366.6" cy="630.9" r="3.0"/><circle cx="367" cy="643.8" r="3.0"/><circle cx="367.1" cy="629.6" r="3.0"/><circle cx="367.3" cy="654.5" r="3.0"/><circle cx="366.6" cy="643.6" r="3.0"/><circle cx="366.9" cy="642.5" r="3.0"/><circle cx="366.7" cy="626.6" r="3.0"/><circle cx="367" cy="662.3" r="3.0"/><circle cx="366.8" cy="650.7" r="3.0"/><circle cx="366.9" cy="628.2" r="3.0"/><circle cx="368" cy="644.8" r="3.0"/><circle cx="367.7" cy="633.7" r="3.0"/><circle cx="368.6" cy="648.2" r="3.0"/><circle cx="369.1" cy="653.9" r="3.0"/><circle cx="369.9" cy="651.5" r="3.0"/><circle cx="370.2" cy="647.9" r="3.0"/><circle cx="372.3" cy="652" r="3.0"/><circle cx="372.1" cy="646.8" r="3.0"/><circle cx="373.6" cy="654.1" r="3.0"/><circle cx="373.8" cy="652.1" r="3.0"/><circle cx="378.5" cy="654.2" r="3.0"/><circle cx="378.4" cy="641.7" r="3.0"/><circle cx="378.7" cy="649.7" r="3.0"/><circle cx="381.2" cy="658.8" r="3.0"/><circle cx="385.2" cy="657.9" r="3.0"/><circle cx="386.7" cy="651.6" r="3.0"/><circle cx="387" cy="644.3" r="3.0"/><circle cx="390.5" cy="651.6" r="3.0"/><circle cx="393.1" cy="645.5" r="3.0"/><circle cx="392.9" cy="645.6" r="3.0"/><circle cx="397.9" cy="642.5" r="3.0"/><circle cx="398.2" cy="638.5" r="3.0"/><circle cx="400" cy="638.4" r="3.0"/><circle cx="402.1" cy="644.5" r="3.0"/><circle cx="402.6" cy="649.3" r="3.0"/><circle cx="402.8" cy="651" r="3.0"/><circle cx="403.4" cy="646.1" r="3.0"/><circle cx="406.2" cy="639.8" r="3.0"/><circle cx="406.3" cy="649.3" r="3.0"/><circle cx="405.7" cy="638" r="3.0"/><circle cx="409.5" cy="630.3" r="3.0"/><circle cx="412" cy="639.5" r="3.0"/><circle cx="412.1" cy="632.5" r="3.0"/><circle cx="414.9" cy="629.3" r="3.0"/><circle cx="417.3" cy="633.9" r="3.0"/><circle cx="418.6" cy="633.5" r="3.0"/><circle cx="418.9" cy="631.6" r="3.0"/><circle cx="418.9" cy="624.5" r="3.0"/><circle cx="421" cy="637.4" r="3.0"/><circle cx="422.4" cy="622.2" r="3.0"/><circle cx="426" cy="634.7" r="3.0"/><circle cx="425.7" cy="630.8" r="3.0"/><circle cx="430.2" cy="630.6" r="3.0"/><circle cx="430.5" cy="626.9" r="3.0"/><circle cx="430.5" cy="633" r="3.0"/><circle cx="431.4" cy="624.1" r="3.0"/><circle cx="432.6" cy="634.4" r="3.0"/><circle cx="433.3" cy="619.6" r="3.0"/><circle cx="435.2" cy="625.8" r="3.0"/><circle cx="439.2" cy="635" r="3.0"/><circle cx="439.2" cy="627.8" r="3.0"/><circle cx="441.2" cy="631.4" r="3.0"/><circle cx="441.2" cy="624.5" r="3.0"/><circle cx="444.2" cy="614.3" r="3.0"/><circle cx="444.2" cy="616" r="3.0"/><circle cx="445.5" cy="627.6" r="3.0"/><circle cx="446.3" cy="617.1" r="3.0"/><circle cx="448" cy="611.7" r="3.0"/><circle cx="448" cy="615.8" r="3.0"/><circle cx="449.3" cy="630.1" r="3.0"/><circle cx="452.2" cy="626.7" r="3.0"/><circle cx="452.7" cy="612.7" r="3.0"/><circle cx="454" cy="614.5" r="3.0"/><circle cx="454.2" cy="614.8" r="3.0"/><circle cx="453.9" cy="617.2" r="3.0"/><circle cx="455.5" cy="622.5" r="3.0"/><circle cx="455.5" cy="614.7" r="3.0"/><circle cx="455.4" cy="611.7" r="3.0"/><circle cx="456.1" cy="611.8" r="3.0"/><circle cx="456.8" cy="619" r="3.0"/><circle cx="457.9" cy="620.9" r="3.0"/><circle cx="459.1" cy="614.3" r="3.0"/><circle cx="463.5" cy="617" r="3.0"/><circle cx="463.7" cy="610.4" r="3.0"/><circle cx="464.2" cy="612" r="3.0"/><circle cx="464.8" cy="607.1" r="3.0"/><circle cx="465.7" cy="611" r="3.0"/><circle cx="466.6" cy="621.2" r="3.0"/><circle cx="467.7" cy="622.2" r="3.0"/><circle cx="468.7" cy="615.5" r="3.0"/><circle cx="471.5" cy="614.6" r="3.0"/><circle cx="472.8" cy="614.8" r="3.0"/><circle cx="473.9" cy="619.2" r="3.0"/><circle cx="474.8" cy="616.7" r="3.0"/><circle cx="475.7" cy="612" r="3.0"/><circle cx="479.3" cy="616.5" r="3.0"/><circle cx="479.2" cy="606.1" r="3.0"/><circle cx="480" cy="604.9" r="3.0"/><circle cx="484.4" cy="613" r="3.0"/><circle cx="491.6" cy="610.1" r="3.0"/><circle cx="493.6" cy="609" r="3.0"/><circle cx="850.2" cy="107.3" r="3.0"/><circle cx="728.3" cy="201.9" r="3.0"/><circle cx="731.8" cy="216.8" r="3.0"/><circle cx="734.5" cy="216.8" r="3.0"/><circle cx="731.4" cy="249.4" r="3.0"/><circle cx="879.6" cy="208" r="3.0"/><circle cx="796.5" cy="237.5" r="3.0"/><circle cx="802.6" cy="246.3" r="3.0"/><circle cx="873.5" cy="243.7" r="3.0"/><circle cx="885.8" cy="252" r="3.0"/><circle cx="853.7" cy="255.1" r="3.0"/><circle cx="856.3" cy="255.1" r="3.0"/><circle cx="841.4" cy="258.2" r="3.0"/><circle cx="862" cy="263.9" r="3.0"/><circle cx="799.6" cy="267" r="3.0"/><circle cx="855.9" cy="270" r="3.0"/><circle cx="832.1" cy="270" r="3.0"/><circle cx="785" cy="275.8" r="3.0"/><circle cx="805.7" cy="275.8" r="3.0"/><circle cx="781.5" cy="284.6" r="3.0"/><circle cx="873.5" cy="287.7" r="3.0"/><circle cx="707.6" cy="287.7" r="3.0"/><circle cx="677.7" cy="293.8" r="3.0"/><circle cx="773.2" cy="296.5" r="3.0"/><circle cx="541.5" cy="320.7" r="3.0"/><circle cx="508.9" cy="415.7" r="3.0"/><circle cx="870.8" cy="300" r="3.0"/><circle cx="885.8" cy="300" r="3.0"/><circle cx="835.4" cy="303" r="3.0"/><circle cx="844.4" cy="300" r="3.0"/><circle cx="838.4" cy="315" r="3.0"/><circle cx="841.4" cy="321" r="3.0"/><circle cx="847.4" cy="332.4" r="3.0"/><circle cx="826.4" cy="326.4" r="3.0"/><circle cx="870.8" cy="323.4" r="3.0"/><circle cx="873.8" cy="329.4" r="3.0"/><circle cx="876.8" cy="347.4" r="3.0"/><circle cx="701.6" cy="306" r="3.0"/><circle cx="707.6" cy="309" r="3.0"/><circle cx="710.6" cy="326.4" r="3.0"/><circle cx="731.6" cy="323.4" r="3.0"/><circle cx="746.6" cy="326.4" r="3.0"/><circle cx="740.6" cy="338.4" r="3.0"/><circle cx="743.6" cy="344.4" r="3.0"/><circle cx="737.6" cy="347.4" r="3.0"/><circle cx="737.6" cy="353.4" r="3.0"/><circle cx="767" cy="338.4" r="3.0"/><circle cx="788" cy="338.4" r="3.0"/><circle cx="811.4" cy="338.4" r="3.0"/><circle cx="722.6" cy="356.4" r="3.0"/><circle cx="725.6" cy="362.4" r="3.0"/><circle cx="731.6" cy="362.4" r="3.0"/><circle cx="755.6" cy="350.4" r="3.0"/><circle cx="758.6" cy="356.4" r="3.0"/><circle cx="752" cy="362.4" r="3.0"/><circle cx="755.6" cy="365.4" r="3.0"/><circle cx="773" cy="356.4" r="3.0"/><circle cx="701.6" cy="365.4" r="3.0"/><circle cx="820.4" cy="359.4" r="3.0"/><circle cx="847.4" cy="359.4" r="3.0"/><circle cx="850.4" cy="362.4" r="3.0"/><circle cx="867.8" cy="362.4" r="3.0"/><circle cx="879.8" cy="368.4" r="3.0"/><circle cx="903.8" cy="365.4" r="3.0"/><circle cx="856.4" cy="371.4" r="3.0"/><circle cx="785" cy="368.4" r="3.0"/><circle cx="791" cy="371.4" r="3.0"/><circle cx="788" cy="374.4" r="3.0"/><circle cx="773" cy="374.4" r="3.0"/><circle cx="669.2" cy="317.7" r="3.0"/><circle cx="630.7" cy="323.7" r="3.0"/><circle cx="607" cy="341.5" r="3.0"/><circle cx="633.6" cy="344.3" r="3.0"/><circle cx="645.4" cy="347.2" r="3.0"/><circle cx="649" cy="350.3" r="3.0"/><circle cx="643.2" cy="349.8" r="3.0"/><circle cx="639.7" cy="356" r="3.0"/><circle cx="595.3" cy="362.2" r="3.0"/><circle cx="607" cy="365.2" r="3.0"/><circle cx="612.9" cy="374" r="3.0"/><circle cx="621.9" cy="371.2" r="3.0"/><circle cx="690.1" cy="377.1" r="3.0"/><circle cx="674.7" cy="380.2" r="3.0"/><circle cx="674.7" cy="383.5" r="3.0"/><circle cx="601" cy="389" r="3.0"/><circle cx="607" cy="395" r="3.0"/><circle cx="675.1" cy="395" r="3.0"/><circle cx="639.7" cy="400.7" r="3.0"/><circle cx="654.5" cy="395" r="3.0"/><circle cx="660.4" cy="397.8" r="3.0"/><circle cx="693" cy="403.7" r="3.0"/><circle cx="598.1" cy="406.8" r="3.0"/><circle cx="669.2" cy="409.9" r="3.0"/><circle cx="678" cy="412.5" r="3.0"/><circle cx="686.8" cy="409.9" r="3.0"/><circle cx="686.8" cy="415.8" r="3.0"/><circle cx="673.6" cy="418.7" r="3.0"/><circle cx="678" cy="418.7" r="3.0"/><circle cx="503.5" cy="427.5" r="3.0"/><circle cx="524" cy="424.2" r="3.0"/><circle cx="530.2" cy="430.4" r="3.0"/><circle cx="595.1" cy="415.6" r="3.0"/><circle cx="603.9" cy="415.6" r="3.0"/><circle cx="609.8" cy="412.5" r="3.0"/><circle cx="609.8" cy="415.8" r="3.0"/><circle cx="618.6" cy="418.5" r="3.0"/><circle cx="624.8" cy="418.5" r="3.0"/><circle cx="648.5" cy="418.5" r="3.0"/><circle cx="639.7" cy="424.2" r="3.0"/><circle cx="595.1" cy="424.2" r="3.0"/><circle cx="603.9" cy="427.5" r="3.0"/><circle cx="607" cy="430.4" r="3.0"/><circle cx="681.1" cy="427.5" r="3.0"/><circle cx="681.1" cy="430.4" r="3.0"/><circle cx="669.2" cy="430.4" r="3.0"/><circle cx="669.2" cy="433.4" r="3.0"/><circle cx="654.5" cy="433.4" r="3.0"/><circle cx="663.3" cy="433.4" r="3.0"/><circle cx="619" cy="435.6" r="3.0"/><circle cx="633.6" cy="437.8" r="3.0"/><circle cx="690.1" cy="437.8" r="3.0"/><circle cx="571.3" cy="427.5" r="3.0"/><circle cx="576.8" cy="430.4" r="3.0"/><circle cx="583.4" cy="427.5" r="3.0"/><circle cx="574.6" cy="433.4" r="3.0"/><circle cx="580.5" cy="435.6" r="3.0"/><circle cx="556.6" cy="435.6" r="3.0"/><circle cx="562.7" cy="433.4" r="3.0"/><circle cx="530.2" cy="437.8" r="3.0"/><circle cx="725.2" cy="379.2" r="3.0"/><circle cx="728.5" cy="385.8" r="3.0"/><circle cx="716.8" cy="385.8" r="3.0"/><circle cx="754.9" cy="376.6" r="3.0"/><circle cx="749" cy="385.8" r="3.0"/><circle cx="752" cy="388.7" r="3.0"/><circle cx="760.8" cy="385.8" r="3.0"/><circle cx="778.9" cy="388.7" r="3.0"/><circle cx="796.7" cy="385.8" r="3.0"/><circle cx="817.6" cy="394.6" r="3.0"/><circle cx="844" cy="376.6" r="3.0"/><circle cx="850.2" cy="376.6" r="3.0"/><circle cx="867.8" cy="376.6" r="3.0"/><circle cx="888.4" cy="385.8" r="3.0"/><circle cx="870.4" cy="388.7" r="3.0"/><circle cx="841.4" cy="394.6" r="3.0"/><circle cx="891.3" cy="394.6" r="3.0"/><circle cx="710.9" cy="406.3" r="3.0"/><circle cx="734.4" cy="403.4" r="3.0"/><circle cx="743.2" cy="403.4" r="3.0"/><circle cx="749" cy="397.5" r="3.0"/><circle cx="749" cy="406.3" r="3.0"/><circle cx="767" cy="397.5" r="3.0"/><circle cx="767" cy="403.4" r="3.0"/><circle cx="787.9" cy="400.4" r="3.0"/><circle cx="787.9" cy="409.6" r="3.0"/><circle cx="791.2" cy="409.6" r="3.0"/><circle cx="802.6" cy="409.6" r="3.0"/><circle cx="844" cy="403.4" r="3.0"/><circle cx="867.8" cy="403.4" r="3.0"/><circle cx="870.4" cy="406.3" r="3.0"/><circle cx="873.7" cy="400.4" r="3.0"/><circle cx="888.4" cy="403.4" r="3.0"/><circle cx="725.6" cy="412.2" r="3.0"/><circle cx="734.4" cy="412.2" r="3.0"/><circle cx="743.2" cy="412.2" r="3.0"/><circle cx="799.6" cy="418" r="3.0"/><circle cx="802.6" cy="418" r="3.0"/><circle cx="831.9" cy="421.3" r="3.0"/><circle cx="846.9" cy="418" r="3.0"/><circle cx="856.1" cy="423.9" r="3.0"/><circle cx="867.8" cy="415.1" r="3.0"/><circle cx="876.6" cy="418" r="3.0"/><circle cx="879.6" cy="418" r="3.0"/><circle cx="888.4" cy="415.1" r="3.0"/><circle cx="891.3" cy="421.3" r="3.0"/><circle cx="705" cy="423.9" r="3.0"/><circle cx="785" cy="423.9" r="3.0"/><circle cx="775.8" cy="432.7" r="3.0"/><circle cx="779.1" cy="429.8" r="3.0"/><circle cx="758.2" cy="432.7" r="3.0"/><circle cx="707.6" cy="432.7" r="3.0"/><circle cx="704.3" cy="436" r="3.0"/><circle cx="716.4" cy="432.7" r="3.0"/><circle cx="725.2" cy="432.7" r="3.0"/><circle cx="867.8" cy="426.8" r="3.0"/><circle cx="867.8" cy="432.7" r="3.0"/><circle cx="885.8" cy="426.8" r="3.0"/><circle cx="882.5" cy="432.7" r="3.0"/><circle cx="692.2" cy="440.4" r="3.0"/><circle cx="705" cy="442.2" r="3.0"/><circle cx="713.8" cy="439.3" r="3.0"/><circle cx="716.4" cy="444.8" r="3.0"/><circle cx="695.5" cy="447.4" r="3.0"/><circle cx="731.8" cy="444.8" r="3.0"/><circle cx="802.2" cy="439.3" r="3.0"/><circle cx="817.2" cy="435.6" r="3.0"/><circle cx="820.9" cy="439.3" r="3.0"/><circle cx="826.4" cy="444.8" r="3.0"/><circle cx="823.8" cy="451" r="3.0"/><circle cx="856.1" cy="439.3" r="3.0"/><circle cx="705" cy="453.6" r="3.0"/><circle cx="716.8" cy="453.6" r="3.0"/><circle cx="710.9" cy="459.8" r="3.0"/><circle cx="728.5" cy="456.9" r="3.0"/><circle cx="737.3" cy="453.6" r="3.0"/><circle cx="743.2" cy="451" r="3.0"/><circle cx="758.2" cy="451" r="3.0"/><circle cx="775.8" cy="451" r="3.0"/><circle cx="767" cy="462.4" r="3.0"/><circle cx="785" cy="459.8" r="3.0"/><circle cx="779.1" cy="465.7" r="3.0"/><circle cx="785" cy="465.7" r="3.0"/><circle cx="805.5" cy="462.4" r="3.0"/><circle cx="805.5" cy="467.9" r="3.0"/><circle cx="731.8" cy="465" r="3.0"/><circle cx="737.3" cy="462.4" r="3.0"/><circle cx="737.3" cy="467.9" r="3.0"/><circle cx="752" cy="465" r="3.0"/><circle cx="850.2" cy="451" r="3.0"/><circle cx="853.2" cy="453.6" r="3.0"/><circle cx="856.1" cy="451" r="3.0"/><circle cx="853.2" cy="456.9" r="3.0"/><circle cx="868.2" cy="453.6" r="3.0"/><circle cx="873.7" cy="453.6" r="3.0"/><circle cx="882.5" cy="456.9" r="3.0"/><circle cx="885.8" cy="456.9" r="3.0"/><circle cx="897.9" cy="456.9" r="3.0"/><circle cx="906.7" cy="459.8" r="3.0"/><circle cx="861.6" cy="459.8" r="3.0"/><circle cx="864.9" cy="459.8" r="3.0"/><circle cx="862" cy="462.4" r="3.0"/><circle cx="891.3" cy="462.4" r="3.0"/><circle cx="870.4" cy="465" r="3.0"/><circle cx="852.8" cy="465.7" r="3.0"/><circle cx="850.2" cy="467.9" r="3.0"/><circle cx="903.3" cy="471.5" r="3.0"/><circle cx="885.8" cy="474.5" r="3.0"/><circle cx="870.5" cy="474.5" r="3.0"/><circle cx="876.9" cy="471.5" r="3.0"/><circle cx="876.9" cy="474.5" r="3.0"/><circle cx="891.6" cy="483.2" r="3.0"/><circle cx="897.5" cy="480.2" r="3.0"/><circle cx="903.3" cy="480.2" r="3.0"/><circle cx="690" cy="468.4" r="3.0"/><circle cx="682" cy="474.4" r="3.0"/><circle cx="693" cy="477.6" r="3.0"/><circle cx="702" cy="474.4" r="3.0"/><circle cx="711" cy="474.4" r="3.0"/><circle cx="711" cy="483.6" r="3.0"/><circle cx="734" cy="471" r="3.0"/><circle cx="779" cy="471" r="3.0"/><circle cx="791" cy="474.4" r="3.0"/><circle cx="823.6" cy="474.4" r="3.0"/><circle cx="823.6" cy="483.6" r="3.0"/><circle cx="732" cy="477.6" r="3.0"/><circle cx="729" cy="483.6" r="3.0"/><circle cx="722.4" cy="480" r="3.0"/><circle cx="722.4" cy="489.6" r="3.0"/><circle cx="734" cy="489.6" r="3.0"/><circle cx="740" cy="483.6" r="3.0"/><circle cx="744" cy="491.6" r="3.0"/><circle cx="749" cy="489.6" r="3.0"/><circle cx="753" cy="489.6" r="3.0"/><circle cx="758" cy="483.6" r="3.0"/><circle cx="764" cy="489.6" r="3.0"/><circle cx="764" cy="493" r="3.0"/><circle cx="771" cy="495.6" r="3.0"/><circle cx="776" cy="491.6" r="3.0"/><circle cx="779" cy="480" r="3.0"/><circle cx="782" cy="486" r="3.0"/><circle cx="784" cy="491.6" r="3.0"/><circle cx="788" cy="489.6" r="3.0"/><circle cx="791" cy="491.6" r="3.0"/><circle cx="794" cy="489.6" r="3.0"/><circle cx="800" cy="489.6" r="3.0"/><circle cx="806" cy="495.6" r="3.0"/><circle cx="792" cy="498" r="3.0"/><circle cx="796" cy="501.6" r="3.0"/><circle cx="838" cy="480" r="3.0"/><circle cx="842" cy="486" r="3.0"/><circle cx="846" cy="489.6" r="3.0"/><circle cx="848" cy="483.6" r="3.0"/><circle cx="852" cy="477.6" r="3.0"/><circle cx="862" cy="471" r="3.0"/><circle cx="868" cy="471" r="3.0"/><circle cx="860" cy="480" r="3.0"/><circle cx="864" cy="486" r="3.0"/><circle cx="857" cy="489.6" r="3.0"/><circle cx="852" cy="491.6" r="3.0"/><circle cx="846" cy="495.6" r="3.0"/><circle cx="862" cy="495.6" r="3.0"/><circle cx="684" cy="495.6" r="3.0"/><circle cx="684" cy="503.6" r="3.0"/><circle cx="682" cy="509.6" r="3.0"/><circle cx="687" cy="514" r="3.0"/><circle cx="682" cy="528" r="3.0"/><circle cx="684" cy="532" r="3.0"/><circle cx="702" cy="501.6" r="3.0"/><circle cx="696" cy="509.6" r="3.0"/><circle cx="702" cy="514" r="3.0"/><circle cx="702" cy="518" r="3.0"/><circle cx="705" cy="524" r="3.0"/><circle cx="720" cy="501.6" r="3.0"/><circle cx="729" cy="498" r="3.0"/><circle cx="729" cy="503.6" r="3.0"/><circle cx="734" cy="508" r="3.0"/><circle cx="738" cy="508" r="3.0"/><circle cx="742" cy="512" r="3.0"/><circle cx="732" cy="514" r="3.0"/><circle cx="736" cy="516" r="3.0"/><circle cx="740" cy="514" r="3.0"/><circle cx="744" cy="514" r="3.0"/><circle cx="723" cy="514" r="3.0"/><circle cx="723" cy="518" r="3.0"/><circle cx="720" cy="522" r="3.0"/><circle cx="752" cy="504" r="3.0"/><circle cx="752" cy="509" r="3.0"/><circle cx="746" cy="510" r="3.0"/><circle cx="764" cy="506" r="3.0"/><circle cx="768" cy="509" r="3.0"/><circle cx="776" cy="509" r="3.0"/><circle cx="784" cy="506" r="3.0"/><circle cx="834" cy="498" r="3.0"/><circle cx="870" cy="490" r="3.0"/><circle cx="874" cy="490" r="3.0"/><circle cx="878" cy="490" r="3.0"/><circle cx="872" cy="494" r="3.0"/><circle cx="876" cy="494" r="3.0"/><circle cx="866" cy="494" r="3.0"/><circle cx="502" cy="430" r="3.0"/><circle cx="571.3" cy="433.3" r="3.0"/><circle cx="571.3" cy="439.2" r="3.0"/><circle cx="667" cy="439.2" r="3.0"/><circle cx="511.9" cy="448" r="3.0"/><circle cx="576.8" cy="442.1" r="3.0"/><circle cx="580.1" cy="442.1" r="3.0"/><circle cx="571.3" cy="445.8" r="3.0"/><circle cx="590" cy="445.8" r="3.0"/><circle cx="594.4" cy="445.8" r="3.0"/><circle cx="606.5" cy="442.1" r="3.0"/><circle cx="610.9" cy="442.1" r="3.0"/><circle cx="607.2" cy="445.8" r="3.0"/><circle cx="625.2" cy="448" r="3.0"/><circle cx="628.5" cy="448" r="3.0"/><circle cx="636.6" cy="448" r="3.0"/><circle cx="680.6" cy="448" r="3.0"/><circle cx="485.5" cy="456.8" r="3.0"/><circle cx="588.9" cy="450.9" r="3.0"/><circle cx="601" cy="450.9" r="3.0"/><circle cx="570.2" cy="453.8" r="3.0"/><circle cx="553.7" cy="456.8" r="3.0"/><circle cx="559.2" cy="456.8" r="3.0"/><circle cx="594.4" cy="456.8" r="3.0"/><circle cx="598.8" cy="456.8" r="3.0"/><circle cx="607.2" cy="456.8" r="3.0"/><circle cx="651.6" cy="453.8" r="3.0"/><circle cx="660.4" cy="456.8" r="3.0"/><circle cx="674.7" cy="453.8" r="3.0"/><circle cx="508.6" cy="463" r="3.0"/><circle cx="541.6" cy="459.7" r="3.0"/><circle cx="541.6" cy="465.6" r="3.0"/><circle cx="596.6" cy="460.8" r="3.0"/><circle cx="602.1" cy="460.8" r="3.0"/><circle cx="618.6" cy="463" r="3.0"/><circle cx="626.3" cy="463" r="3.0"/><circle cx="631.8" cy="463" r="3.0"/><circle cx="637.3" cy="459.7" r="3.0"/><circle cx="640.6" cy="463" r="3.0"/><circle cx="588.9" cy="465.6" r="3.0"/><circle cx="656" cy="459.7" r="3.0"/><circle cx="576.8" cy="469.2" r="3.0"/><circle cx="583.4" cy="469.2" r="3.0"/><circle cx="590" cy="469.2" r="3.0"/><circle cx="546" cy="469.2" r="3.0"/><circle cx="527.3" cy="471.8" r="3.0"/><circle cx="603.2" cy="469.2" r="3.0"/><circle cx="609.8" cy="469.2" r="3.0"/><circle cx="616.4" cy="471.8" r="3.0"/><circle cx="625.2" cy="475.1" r="3.0"/><circle cx="642.8" cy="469.2" r="3.0"/><circle cx="648.3" cy="469.2" r="3.0"/><circle cx="660.4" cy="465.6" r="3.0"/><circle cx="664.8" cy="469.2" r="3.0"/><circle cx="671.4" cy="469.2" r="3.0"/><circle cx="499.8" cy="475.1" r="3.0"/><circle cx="521.8" cy="477.3" r="3.0"/><circle cx="550.4" cy="475.1" r="3.0"/><circle cx="574.6" cy="475.1" r="3.0"/><circle cx="583.4" cy="477.3" r="3.0"/><circle cx="598.8" cy="471.8" r="3.0"/><circle cx="606.5" cy="475.1" r="3.0"/><circle cx="618.6" cy="477.3" r="3.0"/><circle cx="645" cy="475.1" r="3.0"/><circle cx="662.6" cy="475.1" r="3.0"/><circle cx="673.6" cy="475.1" r="3.0"/><circle cx="536.1" cy="480.6" r="3.0"/><circle cx="544.9" cy="483.5" r="3.0"/><circle cx="536.1" cy="486.8" r="3.0"/><circle cx="540.5" cy="486.8" r="3.0"/><circle cx="511.9" cy="486.8" r="3.0"/><circle cx="527.3" cy="486.8" r="3.0"/><circle cx="583.4" cy="483.5" r="3.0"/><circle cx="588.9" cy="480.6" r="3.0"/><circle cx="594.4" cy="483.5" r="3.0"/><circle cx="595.5" cy="489.4" r="3.0"/><circle cx="618.6" cy="483.5" r="3.0"/><circle cx="625.2" cy="483.5" r="3.0"/><circle cx="653.8" cy="483.5" r="3.0"/><circle cx="660.4" cy="483.5" r="3.0"/><circle cx="669.2" cy="483.5" r="3.0"/><circle cx="678" cy="486.8" r="3.0"/><circle cx="636.6" cy="489.4" r="3.0"/><circle cx="548.2" cy="489.4" r="3.0"/><circle cx="519.6" cy="489.4" r="3.0"/><circle cx="481.1" cy="486.8" r="3.0"/><circle cx="492.1" cy="492.7" r="3.0"/><circle cx="483.3" cy="495.6" r="3.0"/><circle cx="519.6" cy="492.7" r="3.0"/><circle cx="527.3" cy="492.7" r="3.0"/><circle cx="544.9" cy="492.7" r="3.0"/><circle cx="570.2" cy="492.7" r="3.0"/><circle cx="576.8" cy="492.7" r="3.0"/><circle cx="577.9" cy="495.6" r="3.0"/><circle cx="580.1" cy="498.6" r="3.0"/><circle cx="601" cy="495.6" r="3.0"/><circle cx="609.8" cy="492.7" r="3.0"/><circle cx="613.1" cy="489.4" r="3.0"/><circle cx="612" cy="495.6" r="3.0"/><circle cx="624.1" cy="501.5" r="3.0"/><circle cx="634" cy="498.6" r="3.0"/><circle cx="641.7" cy="501.5" r="3.0"/><circle cx="646.1" cy="498.6" r="3.0"/><circle cx="656" cy="495.6" r="3.0"/><circle cx="662.6" cy="498.6" r="3.0"/><circle cx="673.6" cy="495.6" r="3.0"/><circle cx="674.7" cy="501.5" r="3.0"/><circle cx="601" cy="501.5" r="3.0"/><circle cx="595.5" cy="501.5" r="3.0"/><circle cx="500.2" cy="504.8" r="3.0"/><circle cx="516.3" cy="507" r="3.0"/><circle cx="524" cy="501.5" r="3.0"/><circle cx="520.7" cy="501.5" r="3.0"/><circle cx="541.6" cy="507.4" r="3.0"/><circle cx="529.5" cy="510.3" r="3.0"/><circle cx="581.2" cy="507.4" r="3.0"/><circle cx="590" cy="507.4" r="3.0"/><circle cx="594.4" cy="507.4" r="3.0"/><circle cx="599.9" cy="507.4" r="3.0"/><circle cx="607.6" cy="504.8" r="3.0"/><circle cx="613.1" cy="507.4" r="3.0"/><circle cx="627.4" cy="504.8" r="3.0"/><circle cx="634" cy="504.8" r="3.0"/><circle cx="660.4" cy="507.4" r="3.0"/><circle cx="678" cy="507.4" r="3.0"/><circle cx="485.5" cy="513.2" r="3.0"/><circle cx="492.1" cy="513.2" r="3.0"/><circle cx="500.2" cy="513.2" r="3.0"/><circle cx="513" cy="516.9" r="3.0"/><circle cx="518.5" cy="516.9" r="3.0"/><circle cx="524" cy="519.1" r="3.0"/><circle cx="532.8" cy="513.2" r="3.0"/><circle cx="538.3" cy="513.2" r="3.0"/><circle cx="548.2" cy="513.2" r="3.0"/><circle cx="555.9" cy="516.9" r="3.0"/><circle cx="565.8" cy="519.1" r="3.0"/><circle cx="572.4" cy="522.4" r="3.0"/><circle cx="580.1" cy="522.4" r="3.0"/><circle cx="587.8" cy="520.2" r="3.0"/><circle cx="594.4" cy="520.2" r="3.0"/><circle cx="603.2" cy="515.8" r="3.0"/><circle cx="609.8" cy="515.8" r="3.0"/><circle cx="614.2" cy="522.4" r="3.0"/><circle cx="620.8" cy="519.1" r="3.0"/><circle cx="627.8" cy="516.2" r="3.0"/><circle cx="651.6" cy="513.2" r="3.0"/><circle cx="656" cy="519.8" r="3.0"/><circle cx="662.6" cy="519.8" r="3.0"/><circle cx="669.2" cy="522.4" r="3.0"/><circle cx="675.8" cy="519.8" r="3.0"/><circle cx="696.7" cy="519.8" r="3.0"/><circle cx="496.5" cy="525" r="3.0"/><circle cx="505.3" cy="525" r="3.0"/><circle cx="510.8" cy="525" r="3.0"/><circle cx="518.5" cy="525" r="3.0"/><circle cx="527.3" cy="526.8" r="3.0"/><circle cx="533.9" cy="526.8" r="3.0"/><circle cx="543.8" cy="526.8" r="3.0"/><circle cx="552.6" cy="526.8" r="3.0"/><circle cx="562.5" cy="526.8" r="3.0"/><circle cx="576.8" cy="526.8" r="3.0"/><circle cx="585.6" cy="526.8" r="3.0"/><circle cx="599.9" cy="526.8" r="3.0"/><circle cx="609.8" cy="526.8" r="3.0"/><circle cx="617.5" cy="526.8" r="3.0"/><circle cx="637.3" cy="525" r="3.0"/><circle cx="647.2" cy="526.8" r="3.0"/><circle cx="656" cy="526.8" r="3.0"/><circle cx="673.6" cy="526.8" r="3.0"/><circle cx="684.6" cy="526.8" r="3.0"/><circle cx="515.2" cy="526.1" r="3.0"/><circle cx="524" cy="528.3" r="3.0"/><circle cx="543.8" cy="531.6" r="3.0"/><circle cx="550.4" cy="528.3" r="3.0"/><circle cx="568" cy="528.3" r="3.0"/><circle cx="574.6" cy="528.3" r="3.0"/><circle cx="581.2" cy="531.6" r="3.0"/><circle cx="590" cy="528.3" r="3.0"/><circle cx="595.5" cy="528.3" r="3.0"/><circle cx="603.2" cy="528.3" r="3.0"/><circle cx="612" cy="528.3" r="3.0"/><circle cx="623" cy="528.3" r="3.0"/><circle cx="638.4" cy="528.3" r="3.0"/><circle cx="667" cy="531.6" r="3.0"/><circle cx="686.8" cy="531.6" r="3.0"/><circle cx="483.3" cy="542.6" r="3.0"/><circle cx="499.8" cy="537.1" r="3.0"/><circle cx="511.9" cy="534.2" r="3.0"/><circle cx="524" cy="537.1" r="3.0"/><circle cx="529.5" cy="534.2" r="3.0"/><circle cx="535" cy="537.1" r="3.0"/><circle cx="541.6" cy="533.8" r="3.0"/><circle cx="572.4" cy="534.2" r="3.0"/><circle cx="577.9" cy="537.1" r="3.0"/><circle cx="583.4" cy="537.1" r="3.0"/><circle cx="590" cy="534.2" r="3.0"/><circle cx="599.9" cy="537.1" r="3.0"/><circle cx="603.2" cy="534.2" r="3.0"/><circle cx="609.8" cy="537.1" r="3.0"/><circle cx="615.3" cy="540.4" r="3.0"/><circle cx="625.2" cy="537.1" r="3.0"/><circle cx="631.8" cy="537.1" r="3.0"/><circle cx="634" cy="542.6" r="3.0"/><circle cx="641.7" cy="534.2" r="3.0"/><circle cx="649.4" cy="537.1" r="3.0"/><circle cx="653.8" cy="540.4" r="3.0"/><circle cx="669.2" cy="534.2" r="3.0"/><circle cx="678" cy="534.2" r="3.0"/><circle cx="683.5" cy="537.1" r="3.0"/><circle cx="505.3" cy="548.8" r="3.0"/><circle cx="509.7" cy="548.8" r="3.0"/><circle cx="517.4" cy="545.9" r="3.0"/><circle cx="524" cy="543.7" r="3.0"/><circle cx="529.5" cy="545.9" r="3.0"/><circle cx="535" cy="548.8" r="3.0"/><circle cx="540.5" cy="548.8" r="3.0"/><circle cx="550.4" cy="545.9" r="3.0"/><circle cx="553.7" cy="551.8" r="3.0"/><circle cx="572.4" cy="548.8" r="3.0"/><circle cx="577.9" cy="545.9" r="3.0"/><circle cx="582.3" cy="548.8" r="3.0"/><circle cx="592.2" cy="545.9" r="3.0"/><circle cx="596.6" cy="545.9" r="3.0"/><circle cx="601" cy="548.8" r="3.0"/><circle cx="606.5" cy="545.9" r="3.0"/><circle cx="613.1" cy="548.8" r="3.0"/><circle cx="620.8" cy="551.4" r="3.0"/><circle cx="626.3" cy="548.8" r="3.0"/><circle cx="638.4" cy="547" r="3.0"/><circle cx="643.9" cy="542.6" r="3.0"/><circle cx="500.9" cy="557.6" r="3.0"/><circle cx="505.3" cy="554.7" r="3.0"/><circle cx="510.8" cy="557.6" r="3.0"/><circle cx="517.4" cy="554.7" r="3.0"/><circle cx="522.9" cy="554.7" r="3.0"/><circle cx="527.3" cy="558" r="3.0"/><circle cx="533.9" cy="554.7" r="3.0"/><circle cx="538.3" cy="558" r="3.0"/><circle cx="543.8" cy="554.7" r="3.0"/><circle cx="570.2" cy="557.6" r="3.0"/><circle cx="574.6" cy="560.6" r="3.0"/><circle cx="580.1" cy="558" r="3.0"/><circle cx="585.6" cy="554.7" r="3.0"/><circle cx="590" cy="558" r="3.0"/><circle cx="595.5" cy="555.8" r="3.0"/><circle cx="601" cy="558" r="3.0"/><circle cx="607.6" cy="554.7" r="3.0"/><circle cx="614.2" cy="553.6" r="3.0"/><circle cx="620.8" cy="557.6" r="3.0"/><circle cx="484.4" cy="564.2" r="3.0"/><circle cx="489.9" cy="564.2" r="3.0"/><circle cx="482.2" cy="570.1" r="3.0"/><circle cx="487.7" cy="570.1" r="3.0"/><circle cx="496.5" cy="566.8" r="3.0"/><circle cx="502" cy="570.1" r="3.0"/><circle cx="509.7" cy="566.8" r="3.0"/><circle cx="515.2" cy="566.8" r="3.0"/><circle cx="520.7" cy="566.8" r="3.0"/><circle cx="526.2" cy="570.1" r="3.0"/><circle cx="532.8" cy="570.1" r="3.0"/><circle cx="538.3" cy="572.3" r="3.0"/><circle cx="544.9" cy="566.8" r="3.0"/><circle cx="551.5" cy="566.8" r="3.0"/><circle cx="558.1" cy="570.1" r="3.0"/><circle cx="565.8" cy="566.8" r="3.0"/><circle cx="571.3" cy="570.1" r="3.0"/><circle cx="576.8" cy="566.8" r="3.0"/><circle cx="581.2" cy="564.2" r="3.0"/><circle cx="588.9" cy="566.8" r="3.0"/><circle cx="594.4" cy="564.2" r="3.0"/><circle cx="599.9" cy="566.8" r="3.0"/><circle cx="503.1" cy="577.8" r="3.0"/><circle cx="508.6" cy="575.6" r="3.0"/><circle cx="513" cy="578.9" r="3.0"/><circle cx="519.6" cy="575.6" r="3.0"/><circle cx="524" cy="578.5" r="3.0"/><circle cx="530.6" cy="578.5" r="3.0"/><circle cx="537.2" cy="577.8" r="3.0"/><circle cx="543.8" cy="578.9" r="3.0"/><circle cx="548.2" cy="581.8" r="3.0"/><circle cx="507.5" cy="584.4" r="3.0"/><circle cx="513" cy="584.4" r="3.0"/><circle cx="518.5" cy="584.4" r="3.0"/><circle cx="524" cy="584.4" r="3.0"/><circle cx="529.5" cy="584.4" r="3.0"/><circle cx="535" cy="584.4" r="3.0"/><circle cx="541.6" cy="586.6" r="3.0"/><circle cx="550.4" cy="584.4" r="3.0"/><circle cx="488.8" cy="581.8" r="3.0"/><circle cx="484.4" cy="577.8" r="3.0"/><circle cx="489.9" cy="575.6" r="3.0"/><circle cx="480" cy="578.9" r="3.0"/><circle cx="491" cy="589.9" r="3.0"/><circle cx="509.7" cy="591" r="3.0"/><circle cx="516.3" cy="591" r="3.0"/><circle cx="521.8" cy="591" r="3.0"/><circle cx="527.3" cy="591" r="3.0"/><circle cx="532.8" cy="593.2" r="3.0"/><circle cx="480" cy="593.2" r="3.0"/><circle cx="486.6" cy="596.5" r="3.0"/><circle cx="493.2" cy="596.5" r="3.0"/><circle cx="502" cy="595.4" r="3.0"/><circle cx="510.8" cy="596.5" r="3.0"/><circle cx="517.4" cy="596.5" r="3.0"/><circle cx="524" cy="595.4" r="3.0"/><circle cx="484.4" cy="600.9" r="3.0"/><circle cx="489.9" cy="600.9" r="3.0"/><circle cx="494.3" cy="600.9" r="3.0"/><circle cx="500.9" cy="600.9" r="3.0"/><circle cx="508.6" cy="599.8" r="3.0"/><circle cx="515.2" cy="600.9" r="3.0"/><circle cx="481.1" cy="607.5" r="3.0"/><circle cx="488.8" cy="607.5" r="3.0"/><circle cx="495.4" cy="605.3" r="3.0"/><circle cx="502" cy="605.3" r="3.0"/><circle cx="482.2" cy="611.9" r="3.0"/><circle cx="488.8" cy="611.9" r="3.0"/><circle cx="493.2" cy="611.9" r="3.0"/><circle cx="438.1" cy="427.5" r="3.0"/><circle cx="464.9" cy="442.3" r="3.0"/><circle cx="461.9" cy="454.1" r="3.0"/><circle cx="420.1" cy="462.8" r="3.0"/><circle cx="467.6" cy="483.7" r="3.0"/><circle cx="476.7" cy="486.6" r="3.0"/><circle cx="489.6" cy="492.1" r="3.0"/><circle cx="364" cy="501.6" r="3.0"/><circle cx="325.3" cy="519" r="3.0"/><circle cx="360.8" cy="525.1" r="3.0"/><circle cx="432" cy="522.2" r="3.0"/><circle cx="452.9" cy="528.1" r="3.0"/><circle cx="455.8" cy="530.8" r="3.0"/><circle cx="461.5" cy="524.7" r="3.0"/><circle cx="465.3" cy="528.1" r="3.0"/><circle cx="467.6" cy="534.2" r="3.0"/><circle cx="405.4" cy="542.8" r="3.0"/><circle cx="364" cy="545.6" r="3.0"/><circle cx="322.4" cy="551.7" r="3.0"/><circle cx="405.4" cy="551.7" r="3.0"/><circle cx="414" cy="548.8" r="3.0"/><circle cx="420.1" cy="551.7" r="3.0"/><circle cx="414" cy="557.4" r="3.0"/><circle cx="452.9" cy="548.8" r="3.0"/><circle cx="457.7" cy="548.8" r="3.0"/><circle cx="461.5" cy="548.8" r="3.0"/><circle cx="470.6" cy="551.7" r="3.0"/><circle cx="357.9" cy="554.1" r="3.0"/><circle cx="349" cy="560.8" r="3.0"/><circle cx="355.1" cy="560.8" r="3.0"/><circle cx="361.2" cy="560.8" r="3.0"/><circle cx="366.9" cy="566.9" r="3.0"/><circle cx="357.9" cy="572.6" r="3.0"/><circle cx="429.2" cy="563.6" r="3.0"/><circle cx="426.4" cy="572.6" r="3.0"/><circle cx="465.3" cy="563.6" r="3.0"/><circle cx="468.1" cy="560.8" r="3.0"/><circle cx="463.4" cy="566.1" r="3.0"/><circle cx="479.5" cy="563.6" r="3.0"/><circle cx="455.8" cy="572.6" r="3.0"/><circle cx="464.9" cy="572.6" r="3.0"/><circle cx="472.9" cy="572.6" r="3.0"/><circle cx="478.6" cy="572.6" r="3.0"/><circle cx="485.2" cy="572.6" r="3.0"/><circle cx="489.6" cy="572.6" r="3.0"/><circle cx="472.9" cy="575.6" r="3.0"/><circle cx="319.4" cy="575.6" r="3.0"/><circle cx="331.4" cy="578.3" r="3.0"/><circle cx="340.3" cy="575.6" r="3.0"/><circle cx="381.7" cy="578.3" r="3.0"/><circle cx="316.7" cy="584" r="3.0"/><circle cx="346" cy="583.6" r="3.0"/><circle cx="357.9" cy="581.7" r="3.0"/><circle cx="357.9" cy="584.5" r="3.0"/><circle cx="364" cy="581.7" r="3.0"/><circle cx="398.8" cy="581.7" r="3.0"/><circle cx="403.6" cy="578.3" r="3.0"/><circle cx="409.2" cy="581.7" r="3.0"/><circle cx="412.1" cy="578.3" r="3.0"/><circle cx="414.9" cy="581.7" r="3.0"/><circle cx="408.3" cy="584.5" r="3.0"/><circle cx="426.4" cy="583.6" r="3.0"/><circle cx="450.1" cy="583.6" r="3.0"/><circle cx="452.9" cy="583.6" r="3.0"/><circle cx="465.3" cy="578.3" r="3.0"/><circle cx="465.3" cy="584.5" r="3.0"/><circle cx="468.1" cy="583.6" r="3.0"/><circle cx="461.5" cy="587.4" r="3.0"/><circle cx="463.4" cy="590.2" r="3.0"/><circle cx="338.9" cy="593.1" r="3.0"/><circle cx="343.3" cy="593.1" r="3.0"/><circle cx="337.1" cy="596" r="3.0"/><circle cx="352.2" cy="590.2" r="3.0"/><circle cx="362.7" cy="590.2" r="3.0"/><circle cx="366.5" cy="590.2" r="3.0"/><circle cx="370.3" cy="593.1" r="3.0"/><circle cx="389.3" cy="593.1" r="3.0"/><circle cx="396.9" cy="593.1" r="3.0"/><circle cx="403.6" cy="596" r="3.0"/><circle cx="408.3" cy="596" r="3.0"/><circle cx="423.5" cy="590.2" r="3.0"/><circle cx="429.2" cy="596" r="3.0"/><circle cx="444.4" cy="590.2" r="3.0"/><circle cx="450.1" cy="590.2" r="3.0"/><circle cx="455.8" cy="590.2" r="3.0"/><circle cx="471" cy="590.2" r="3.0"/><circle cx="452" cy="592.9" r="3.0"/><circle cx="471" cy="592.9" r="3.0"/><circle cx="485.2" cy="591" r="3.0"/><circle cx="300.9" cy="602.4" r="3.0"/><circle cx="301.9" cy="610.9" r="3.0"/><circle cx="345.6" cy="604.2" r="3.0"/><circle cx="351.3" cy="604.2" r="3.0"/><circle cx="360.8" cy="600.5" r="3.0"/><circle cx="364.6" cy="603.3" r="3.0"/><circle cx="387.4" cy="598.5" r="3.0"/><circle cx="391.2" cy="598.5" r="3.0"/><circle cx="398.8" cy="600.5" r="3.0"/><circle cx="405.4" cy="603.3" r="3.0"/><circle cx="411.1" cy="601.4" r="3.0"/><circle cx="422.6" cy="599.5" r="3.0"/><circle cx="444.4" cy="601.4" r="3.0"/><circle cx="450.1" cy="604.2" r="3.0"/><circle cx="476.7" cy="604.2" r="3.0"/><circle cx="308.6" cy="622.3" r="3.0"/><circle cx="314.2" cy="619.5" r="3.0"/><circle cx="319.9" cy="616.6" r="3.0"/><circle cx="328.5" cy="613.8" r="3.0"/><circle cx="334.2" cy="616.6" r="3.0"/><circle cx="328.5" cy="622.3" r="3.0"/><circle cx="339.9" cy="615.6" r="3.0"/><circle cx="345.6" cy="613.8" r="3.0"/><circle cx="351.3" cy="613.8" r="3.0"/><circle cx="360.8" cy="610.9" r="3.0"/><circle cx="370.3" cy="619.5" r="3.0"/><circle cx="376" cy="616.6" r="3.0"/><circle cx="381.7" cy="610.9" r="3.0"/><circle cx="387.4" cy="608" r="3.0"/><circle cx="391.2" cy="613.8" r="3.0"/><circle cx="396.9" cy="616.6" r="3.0"/><circle cx="402.6" cy="613.8" r="3.0"/><circle cx="408.3" cy="616.6" r="3.0"/><circle cx="414" cy="616.6" r="3.0"/><circle cx="417.8" cy="613.8" r="3.0"/><circle cx="423.5" cy="613.8" r="3.0"/><circle cx="436.8" cy="613.8" r="3.0"/><circle cx="440.6" cy="608" r="3.0"/><circle cx="446.3" cy="610.9" r="3.0"/><circle cx="461.5" cy="613.8" r="3.0"/><circle cx="467.2" cy="610.9" r="3.0"/><circle cx="474.8" cy="610.9" r="3.0"/><circle cx="313.3" cy="633.7" r="3.0"/><circle cx="319" cy="636.5" r="3.0"/><circle cx="324.7" cy="633.7" r="3.0"/><circle cx="330.4" cy="639.4" r="3.0"/><circle cx="307.6" cy="645.1" r="3.0"/><circle cx="303.8" cy="650.8" r="3.0"/><circle cx="307.6" cy="652.7" r="3.0"/><circle cx="314.2" cy="641.3" r="3.0"/><circle cx="319" cy="650.8" r="3.0"/><circle cx="322.8" cy="650.8" r="3.0"/><circle cx="328.5" cy="645.1" r="3.0"/><circle cx="334.2" cy="636.5" r="3.0"/><circle cx="339.9" cy="628" r="3.0"/><circle cx="343.7" cy="624.2" r="3.0"/><circle cx="349.4" cy="624.2" r="3.0"/><circle cx="339.9" cy="633.7" r="3.0"/><circle cx="370.3" cy="625.1" r="3.0"/><circle cx="376" cy="624.2" r="3.0"/><circle cx="381.7" cy="628" r="3.0"/><circle cx="387.4" cy="624.2" r="3.0"/><circle cx="393.1" cy="625.1" r="3.0"/><circle cx="398.8" cy="628" r="3.0"/><circle cx="404.5" cy="628" r="3.0"/><circle cx="410.2" cy="626.1" r="3.0"/><circle cx="417.8" cy="628" r="3.0"/><circle cx="425.4" cy="628" r="3.0"/><circle cx="431.1" cy="625.1" r="3.0"/><circle cx="436.8" cy="624.2" r="3.0"/><circle cx="442.5" cy="625.1" r="3.0"/><circle cx="446.3" cy="621.4" r="3.0"/><circle cx="459.6" cy="621.4" r="3.0"/><circle cx="376" cy="635.6" r="3.0"/><circle cx="381.7" cy="640.4" r="3.0"/><circle cx="387.4" cy="640.4" r="3.0"/><circle cx="393.1" cy="637.5" r="3.0"/><circle cx="398.8" cy="637.5" r="3.0"/><circle cx="404.5" cy="640.4" r="3.0"/><circle cx="410.2" cy="635.6" r="3.0"/><circle cx="415.9" cy="637.5" r="3.0"/><circle cx="421.6" cy="637.5" r="3.0"/><circle cx="427.3" cy="634.6" r="3.0"/><circle cx="431.1" cy="633.7" r="3.0"/><circle cx="374.1" cy="647" r="3.0"/><circle cx="379.8" cy="648.9" r="3.0"/><circle cx="385.5" cy="648.9" r="3.0"/><circle cx="391.2" cy="647" r="3.0"/><circle cx="396.9" cy="645.1" r="3.0"/><circle cx="402.6" cy="643.2" r="3.0"/><circle cx="408.3" cy="645.1" r="3.0"/><circle cx="414" cy="644.1" r="3.0"/><circle cx="419.7" cy="642.2" r="3.0"/><circle cx="383.6" cy="655.5" r="3.0"/><circle cx="265.8" cy="537" r="3.0"/><circle cx="286.7" cy="542.9" r="3.0"/><circle cx="292.6" cy="584.3" r="3.0"/><circle cx="260.1" cy="590.2" r="3.0"/><circle cx="290" cy="596.1" r="3.0"/><circle cx="272.4" cy="607.8" r="3.0"/><circle cx="278.5" cy="607.8" r="3.0"/><circle cx="275" cy="610.9" r="3.0"/><circle cx="265.8" cy="616.8" r="3.0"/><circle cx="280.7" cy="619.9" r="3.0"/><circle cx="290" cy="619.9" r="3.0"/><circle cx="293" cy="619.9" r="3.0"/><circle cx="188.8" cy="619.9" r="3.0"/><circle cx="272.4" cy="625.9" r="3.0"/><circle cx="275" cy="628.7" r="3.0"/><circle cx="286.9" cy="632" r="3.0"/><circle cx="165" cy="658" r="3.0"/><circle cx="161.9" cy="663.9" r="3.0"/><circle cx="183" cy="652.3" r="3.0"/><circle cx="203.7" cy="652.3" r="3.0"/><circle cx="200.9" cy="661.3" r="3.0"/><circle cx="185.9" cy="667.2" r="3.0"/><circle cx="191.8" cy="670.1" r="3.0"/><circle cx="200.9" cy="670.1" r="3.0"/><circle cx="215.6" cy="658" r="3.0"/><circle cx="221.8" cy="652.3" r="3.0"/><circle cx="230.6" cy="649.6" r="3.0"/><circle cx="239.4" cy="649.6" r="3.0"/><circle cx="242.5" cy="655.3" r="3.0"/><circle cx="254.1" cy="649.6" r="3.0"/><circle cx="251.3" cy="661.3" r="3.0"/><circle cx="254.1" cy="667.2" r="3.0"/><circle cx="262.9" cy="652.3" r="3.0"/><circle cx="180.4" cy="678.2" r="3.0"/><circle cx="212.3" cy="678.2" r="3.0"/><circle cx="218.9" cy="676" r="3.0"/><circle cx="230.6" cy="673.2" r="3.0"/><circle cx="135.6" cy="685" r="3.0"/><circle cx="177" cy="691" r="3.0"/><circle cx="168" cy="702.4" r="3.0"/><circle cx="159.6" cy="711" r="3.0"/><circle cx="138" cy="718" r="3.0"/><circle cx="127" cy="726.4" r="3.0"/><circle cx="233" cy="679" r="3.0"/><circle cx="271.6" cy="630" r="3.0"/><circle cx="852" cy="472" r="3.0"/><circle cx="848.8" cy="475.2" r="3.0"/><circle cx="858.4" cy="473.6" r="3.0"/><circle cx="861.6" cy="476.8" r="3.0"/><circle cx="864.8" cy="473.6" r="3.0"/><circle cx="847.2" cy="480" r="3.0"/><circle cx="850.4" cy="484.8" r="3.0"/><circle cx="856.8" cy="494.4" r="3.0"/><circle cx="861.6" cy="488" r="3.0"/><circle cx="860" cy="484.8" r="3.0"/><circle cx="866.4" cy="491.2" r="3.0"/><circle cx="876" cy="488" r="3.0"/><circle cx="884" cy="489.6" r="3.0"/><circle cx="885.6" cy="492.8" r="3.0"/><circle cx="781.6" cy="480" r="3.0"/></g><path d="M147 746.3 L150 745.6 L153 744.8 L156 744.1 L159 743.3 L162 742.6 L165 741.8 L168 741 L171 740.2 L174 739.4 L177 738.6 L180 737.7 L183 736.9 L186 736 L189 735.2 L192 734.3 L195 733.4 L198 732.5 L201 731.6 L204 730.7 L207 729.8 L210 728.8 L213 727.9 L216 726.9 L219 726 L222 725 L225 724 L228 723 L231 722 L234 721 L237 720 L240 719 L243 718 L246 716.9 L249 715.9 L252 714.8 L255 713.8 L258 712.7 L261 711.6 L264 710.5 L267 709.5 L270 708.3 L273 707.2 L276 706.1 L279 705 L282 703.9 L285 702.8 L288 701.6 L291 700.5 L294 699.3 L297 698.2 L300 697 L303 695.8 L306 694.6 L309 693.5 L312 692.3 L315 691.1 L318 689.9 L321 688.7 L324 687.5 L327 686.3 L330 685 L333 683.8 L336 682.6 L339 681.4 L342 680.1 L345 678.9 L348 677.6 L351 676.4 L354 675.1 L357 673.9 L360 672.6 L363 671.4 L366 670.1 L369 668.8 L372 667.5 L375 666.3 L378 665 L381 663.7 L384 662.4 L387 661.1 L390 659.8 L393 658.5 L396 657.3 L399 656 L402 654.7 L405 653.4 L408 652.1 L411 650.7 L414 649.4 L417 648.1 L420 646.8 L423 645.5 L426 644.2 L429 642.9 L432 641.6 L435 640.2 L438 638.9 L441 637.6 L444 636.3 L447 635 L450 633.7 L453 632.3 L456 631 L459 629.7 L462 628.4 L465 627.1 L468 625.8 L471 624.4 L474 623.1 L477 621.8 L480 620.5 L483 619.2 L486 617.9 L489 616.5 L492 615.2 L495 613.9 L498 612.6 L501 611.3 L504 610 L507 608.7 L510 607.4 L513 606.1 L516 604.8 L519 603.5 L522 602.2 L525 601 L528 599.7 L531 598.4 L534 597.1 L537 595.8 L540 594.6 L543 593.3 L546 592 L549 590.8 L552 589.5 L555 588.2 L558 587 L561 585.7 L564 584.5 L567 583.2 L570 582 L573 580.8 L576 579.6 L579 578.3 L582 577.1 L585 575.9 L588 574.7 L591 573.5 L594 572.3 L597 571.1 L600 569.9 L603 568.8 L606 567.6 L609 566.4 L612 565.3 L615 564.1 L618 562.9 L621 561.8 L624 560.7 L627 559.5 L630 558.4 L633 557.3 L636 556.2 L639 555 L642 553.8 L645 552.6 L648 551.4 L651 550.2 L654 549 L657 547.8 L660 546.6 L663 545.4 L666 544.2 L669 543 L672 542 L675 540.9 L678 539.8 L681 538.8 L684 537.8 L687 536.8 L690 535.8 L693 534.8 L696 533.8 L699 532.9 L702 531.9 L705 531 L708 530 L711 529.1 L714 528.2 L717 527.3 L720 526.4 L723 525.6 L726 524.7 L729 523.8 L732 523 L735 522.2 L738 521.3 L741 520.6 L744 519.9 L747 519.2 L750 518.5 L753 517.9 L756 517.2 L759 516.6 L762 516 L765 515.4 L768 514.8 L771 514.2 L774 513.6 L777 513 L780 512.5 L783 512 L786 511.5 L789 511 L792 510.5 L795 510 L798 509.5 L801 509 L804 508.4 L807 507.9 L810 507.4 L813 506.9 L816 506.4 L819 506 L822 505.5 L825 505 L828 504.6 L831 504.2 L834 503.8 L837 503.4 L840 503 L843 502.7 L846 502.3 L849 502 L852 501.7 L855 501.4 L858 501.1 L861 500.8 L864 500.6 L867 500.3 L870 500.1 L873 499.9 L876 499.7 L879 499.5 L882 499.4 L885 499.2 L888 499.1 L891 499 L894 498.9 L897 498.8 L900 498.8 L903 498.8 L906 498.7 L909 498.7 L912 498.7 L915 498.8 L918 498.8 L921 498.9 L924 498.9" fill="none" stroke="#F06723" stroke-width="8" stroke-linejoin="round"/><g fill="#F06723"><circle cx="146.6" cy="748.3" r="5.5"/><circle cx="174.4" cy="741.3" r="5.5"/><circle cx="202.2" cy="733.2" r="5.5"/><circle cx="230" cy="724.4" r="5.5"/><circle cx="257.7" cy="714.8" r="5.5"/><circle cx="285.5" cy="704.6" r="5.5"/><circle cx="313.3" cy="693.8" r="5.5"/><circle cx="341.1" cy="682.5" r="5.5"/><circle cx="368.9" cy="670.9" r="5.5"/><circle cx="396.7" cy="659" r="5.5"/><circle cx="424.5" cy="646.9" r="5.5"/><circle cx="452.2" cy="634.7" r="5.5"/><circle cx="480" cy="622.5" r="5.5"/><circle cx="507.8" cy="610.4" r="5.5"/><circle cx="535.6" cy="598.4" r="5.5"/><circle cx="563.4" cy="586.7" r="5.5"/><circle cx="591.2" cy="575.4" r="5.5"/><circle cx="619" cy="564.6" r="5.5"/><circle cx="646.7" cy="553.9" r="5.5"/><circle cx="674.5" cy="543.1" r="5.5"/><circle cx="702.3" cy="533.8" r="5.5"/><circle cx="730.1" cy="525.5" r="5.5"/><circle cx="757.9" cy="518.8" r="5.5"/><circle cx="785.7" cy="513.5" r="5.5"/><circle cx="813.5" cy="508.8" r="5.5"/><circle cx="841.2" cy="504.9" r="5.5"/><circle cx="869" cy="502.2" r="5.5"/><circle cx="896.8" cy="500.8" r="5.5"/><circle cx="924.6" cy="500.9" r="5.5"/></g><text x="118.26" y="34" font-family="'Liberation Sans', sans-serif" style="font-kerning:none" font-size="46.5" fill="#333" textLength="822.74" lengthAdjust="spacingAndGlyphs">Example of the cloud detection algorithm</text><path d="M94.8 63.4H98.4V83.8H95.3V66.8L92.0 68.0L91.2 66.0Z" fill="#606060"/><text x="55.90" y="223" font-family="'Liberation Sans', sans-serif" style="font-kerning:none" font-size="30.5" fill="#606060" textLength="39.12" lengthAdjust="spacingAndGlyphs">0.8</text><text x="55.27" y="365.4" font-family="'Liberation Sans', sans-serif" style="font-kerning:none" font-size="30.5" fill="#606060" textLength="40.20" lengthAdjust="spacingAndGlyphs">0.6</text><text x="55.29" y="507.6" font-family="'Liberation Sans', sans-serif" style="font-kerning:none" font-size="30.5" fill="#606060" textLength="39.54" lengthAdjust="spacingAndGlyphs">0.4</text><text x="55.29" y="650" font-family="'Liberation Sans', sans-serif" style="font-kerning:none" font-size="30.5" fill="#606060" textLength="39.54" lengthAdjust="spacingAndGlyphs">0.2</text><text x="87.90" y="792" font-family="'Liberation Sans', sans-serif" style="font-kerning:none" font-size="30.5" fill="#606060" textLength="17.10" lengthAdjust="spacingAndGlyphs">0</text><text x="111.21" y="824.8" font-family="'Liberation Sans', sans-serif" style="font-kerning:none" font-size="30.5" fill="#606060" textLength="16.99" lengthAdjust="spacingAndGlyphs">0</text><text x="232.92" y="824.8" font-family="'Liberation Sans', sans-serif" style="font-kerning:none" font-size="30.5" fill="#606060" textLength="49.24" lengthAdjust="spacingAndGlyphs">200</text><text x="374.81" y="824.8" font-family="'Liberation Sans', sans-serif" style="font-kerning:none" font-size="30.5" fill="#606060" textLength="50.11" lengthAdjust="spacingAndGlyphs">400</text><text x="517.22" y="824.8" font-family="'Liberation Sans', sans-serif" style="font-kerning:none" font-size="30.5" fill="#606060" textLength="50.20" lengthAdjust="spacingAndGlyphs">600</text><text x="659.92" y="824.8" font-family="'Liberation Sans', sans-serif" style="font-kerning:none" font-size="30.5" fill="#606060" textLength="48.97" lengthAdjust="spacingAndGlyphs">800</text><path d="M797.4 803.8H801.0V824.8H797.9V807.2L794.6 808.4L793.8 806.4Z" fill="#606060"/><text x="807.16" y="824.8" font-family="'Liberation Sans', sans-serif" style="font-kerning:none" font-size="30.5" fill="#606060" textLength="48.68" lengthAdjust="spacingAndGlyphs">000</text><path d="M943.0 803.8H946.6V824.8H943.5V807.2L940.2 808.4L939.4 806.4Z" fill="#606060"/><text x="952.52" y="824.8" font-family="'Liberation Sans', sans-serif" style="font-kerning:none" font-size="30.5" fill="#606060" textLength="49.03" lengthAdjust="spacingAndGlyphs">200</text><text x="341.35" y="886.7" font-family="'Liberation Sans', sans-serif" style="font-kerning:none" font-size="46" fill="#333" textLength="101.05" lengthAdjust="spacingAndGlyphs">Clear</text><text x="453.37" y="886.7" font-family="'Liberation Sans', sans-serif" style="font-kerning:none" font-size="46" fill="#333" textLength="60.71" lengthAdjust="spacingAndGlyphs">sky</text><text x="525.40" y="886.7" font-family="'Liberation Sans', sans-serif" style="font-kerning:none" font-size="46" fill="#333" textLength="74.36" lengthAdjust="spacingAndGlyphs">GHI</text><text x="623.80" y="886.7" font-family="'Liberation Sans', sans-serif" style="font-kerning:none" font-size="46" fill="#333" textLength="95.26" lengthAdjust="spacingAndGlyphs">W/m</text><text x="610.04" y="883.4" font-family="'Liberation Sans', sans-serif" style="font-kerning:none" font-size="40.3" fill="#333" textLength="12.30" lengthAdjust="spacingAndGlyphs">[</text><text x="744.18" y="883.4" font-family="'Liberation Sans', sans-serif" style="font-kerning:none" font-size="40.3" fill="#333" textLength="11.46" lengthAdjust="spacingAndGlyphs">]</text><text x="718.60" y="878.5" font-family="'Liberation Sans', sans-serif" style="font-kerning:none" font-size="44.5" fill="#333" textLength="24.29" lengthAdjust="spacingAndGlyphs">2</text><text transform="translate(34.1 611.7) rotate(-90)" x="-2.32" y="0" font-family="'Liberation Sans', sans-serif" style="font-kerning:none" font-size="46" fill="#333" textLength="335.11" lengthAdjust="spacingAndGlyphs">Cloud reflectivity</text></svg>
</body></html>
